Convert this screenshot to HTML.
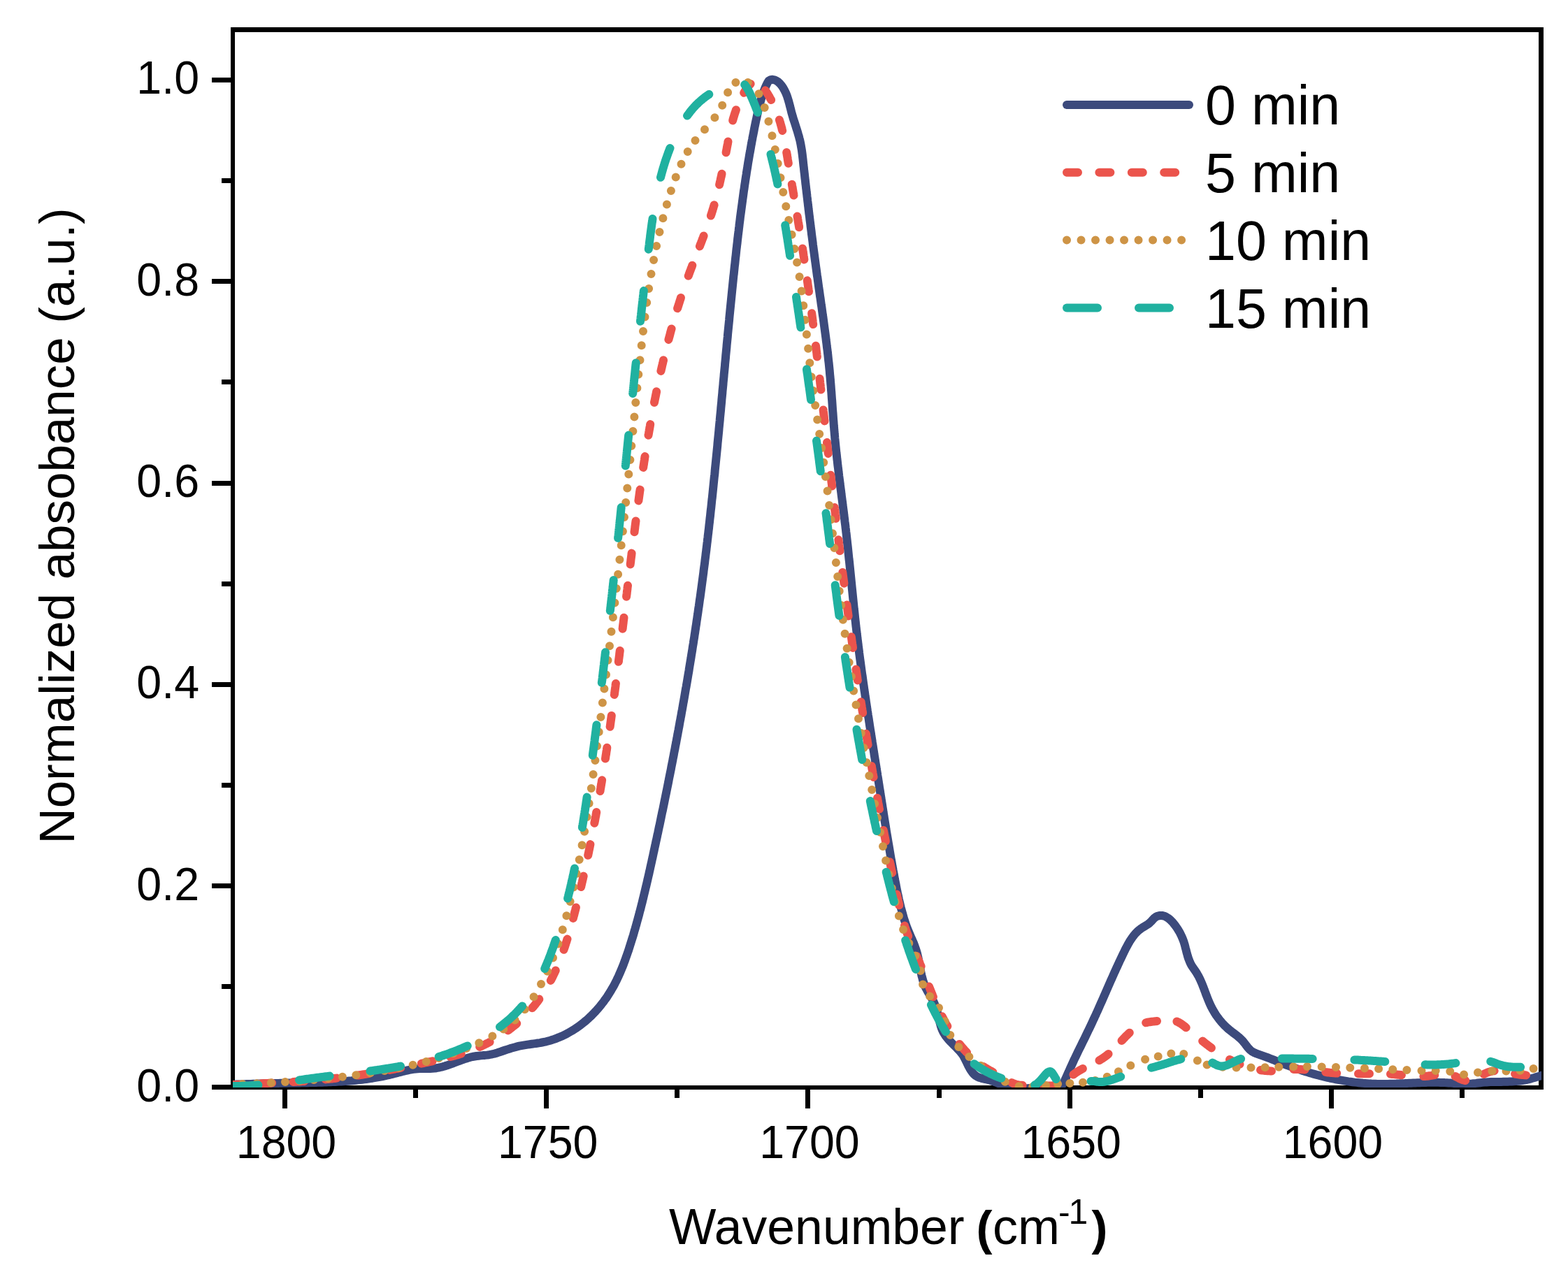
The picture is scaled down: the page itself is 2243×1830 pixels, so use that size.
<!DOCTYPE html>
<html><head><meta charset="utf-8"><title>Normalized absorbance vs wavenumber</title>
<style>
html,body{margin:0;padding:0;background:#fff;}
svg{display:block;}
text{font-family:"Liberation Sans", Arial, Helvetica, sans-serif;fill:#000;}
</style></head><body>
<svg width="2243" height="1830" viewBox="0 0 2243 1830">
<rect x="0" y="0" width="2243" height="1830" fill="#fff"/>
<defs><clipPath id="plotclip"><rect x="333" y="42" width="1872" height="1514"/></clipPath></defs>

<g fill="#000">
<rect x="330" y="39" width="1878" height="7"/>
<rect x="330" y="1553" width="1878" height="6"/>
<rect x="330" y="39" width="6" height="1520"/>
<rect x="2201" y="39" width="7" height="1520"/>
<rect x="303" y="1552" width="27" height="7"/>
<rect x="317" y="1408" width="13" height="7"/>
<rect x="303" y="1264" width="27" height="7"/>
<rect x="317" y="1120" width="13" height="7"/>
<rect x="303" y="976" width="27" height="7"/>
<rect x="317" y="832" width="13" height="7"/>
<rect x="303" y="688" width="27" height="7"/>
<rect x="317" y="543" width="13" height="7"/>
<rect x="303" y="399" width="27" height="7"/>
<rect x="317" y="255" width="13" height="7"/>
<rect x="303" y="111" width="27" height="7"/>
<rect x="404" y="1559" width="7" height="27"/>
<rect x="591" y="1559" width="7" height="12"/>
<rect x="778" y="1559" width="7" height="27"/>
<rect x="965" y="1559" width="7" height="12"/>
<rect x="1152" y="1559" width="7" height="27"/>
<rect x="1340" y="1559" width="7" height="12"/>
<rect x="1527" y="1559" width="7" height="27"/>
<rect x="1714" y="1559" width="7" height="12"/>
<rect x="1901" y="1559" width="7" height="27"/>
<rect x="2088" y="1559" width="7" height="12"/>
</g>
<g font-size="64.5" text-anchor="end">
<text transform="translate(285,1575.8) scale(1,1.04)">0.0</text>
<text transform="translate(285,1287.5) scale(1,1.04)">0.2</text>
<text transform="translate(285,999.2) scale(1,1.04)">0.4</text>
<text transform="translate(285,710.9) scale(1,1.04)">0.6</text>
<text transform="translate(285,422.6) scale(1,1.04)">0.8</text>
<text transform="translate(285,134.3) scale(1,1.04)">1.0</text>
</g>
<g font-size="64.5" text-anchor="middle">
<text transform="translate(409.5,1657) scale(1,1.04)">1800</text>
<text transform="translate(783.7,1657) scale(1,1.04)">1750</text>
<text transform="translate(1157.9,1657) scale(1,1.04)">1700</text>
<text transform="translate(1532.2,1657) scale(1,1.04)">1650</text>
<text transform="translate(1906.4,1657) scale(1,1.04)">1600</text>
</g>
<text x="957" y="1780" font-size="71.5">Wavenumber</text>
<text x="1396.5" y="1780.5" font-size="69" font-weight="bold">(</text>
<text x="1420" y="1780" font-size="72">cm</text>
<text x="1514" y="1750.5" font-size="50">-</text>
<text x="1528.5" y="1750.5" font-size="50">1</text>
<text x="1561.5" y="1780.5" font-size="69" font-weight="bold">)</text>
<text transform="translate(106,1207.5) rotate(-90)" font-size="70.9">Normalized absobance (a.u.)</text>
<g clip-path="url(#plotclip)" fill="none" stroke-width="12" stroke-linecap="round" stroke-linejoin="round">
<polyline stroke="#3C4A7C" points="305.0,1553.4 308.0,1553.2 311.0,1553.0 314.0,1552.8 317.0,1552.7 320.0,1552.5 323.0,1552.3 326.0,1552.2 329.0,1552.0 332.0,1551.9 335.0,1551.8 338.0,1551.6 341.0,1551.5 344.0,1551.4 347.0,1551.3 350.0,1551.2 353.0,1551.0 356.0,1550.9 359.0,1550.9 362.0,1550.8 365.0,1550.7 368.0,1550.6 371.0,1550.5 374.0,1550.4 377.0,1550.3 380.0,1550.3 383.0,1550.2 386.0,1550.1 389.0,1550.1 392.0,1550.0 395.0,1550.0 398.0,1549.9 401.0,1549.8 404.0,1549.8 407.0,1549.7 410.0,1549.7 413.0,1549.6 416.0,1549.6 419.0,1549.5 422.0,1549.5 425.0,1549.4 428.0,1549.4 431.0,1549.3 434.0,1549.3 437.0,1549.2 440.0,1549.2 443.0,1549.1 446.0,1549.1 449.0,1549.0 452.0,1548.9 455.0,1548.8 458.0,1548.7 461.0,1548.7 464.0,1548.6 467.0,1548.4 470.0,1548.3 473.0,1548.2 476.0,1548.1 479.0,1547.9 482.0,1547.7 485.0,1547.6 488.0,1547.4 491.0,1547.2 494.0,1547.0 497.0,1546.8 500.0,1546.5 503.0,1546.3 506.0,1546.0 509.0,1545.7 511.9,1545.4 514.9,1545.1 517.9,1544.7 520.9,1544.3 523.9,1544.0 526.8,1543.6 529.8,1543.1 532.8,1542.7 535.7,1542.2 538.7,1541.7 541.7,1541.2 544.6,1540.6 547.5,1540.0 550.5,1539.4 553.4,1538.7 556.3,1538.1 559.2,1537.3 562.2,1536.6 565.1,1535.8 568.0,1535.1 570.9,1534.3 573.8,1533.6 576.7,1532.8 579.6,1532.1 582.5,1531.5 585.5,1530.9 588.4,1530.4 591.4,1529.9 594.4,1529.5 597.4,1529.2 600.4,1529.0 603.4,1528.9 606.4,1528.9 609.4,1528.9 612.4,1528.9 615.4,1528.9 618.4,1528.8 621.4,1528.6 624.3,1528.2 627.3,1527.7 630.2,1527.0 633.1,1526.3 636.0,1525.5 638.9,1524.6 641.7,1523.6 644.6,1522.6 647.4,1521.6 650.2,1520.5 653.0,1519.4 655.8,1518.4 658.6,1517.3 661.4,1516.3 664.2,1515.3 667.1,1514.4 670.0,1513.5 672.9,1512.7 675.8,1512.0 678.7,1511.5 681.7,1511.0 684.7,1510.7 687.7,1510.4 690.7,1510.1 693.7,1509.9 696.6,1509.6 699.6,1509.2 702.6,1508.7 705.5,1508.0 708.4,1507.3 711.3,1506.4 714.1,1505.4 717.0,1504.5 719.8,1503.5 722.7,1502.5 725.5,1501.6 728.4,1500.7 731.2,1499.8 734.1,1499.0 737.0,1498.2 739.9,1497.4 742.8,1496.7 745.8,1496.1 748.7,1495.6 751.7,1495.1 754.7,1494.6 757.6,1494.2 760.6,1493.8 763.6,1493.4 766.5,1493.0 769.5,1492.5 772.5,1492.1 775.4,1491.5 778.4,1490.9 781.3,1490.3 784.2,1489.5 787.1,1488.7 790.0,1487.8 792.8,1486.9 795.6,1485.8 798.4,1484.7 801.2,1483.6 803.9,1482.4 806.7,1481.1 809.3,1479.8 812.0,1478.4 814.6,1476.9 817.2,1475.4 819.8,1473.8 822.3,1472.2 824.8,1470.6 827.3,1468.8 829.7,1467.1 832.1,1465.3 834.5,1463.4 836.8,1461.5 839.1,1459.6 841.3,1457.6 843.5,1455.5 845.7,1453.5 847.8,1451.3 849.9,1449.2 852.0,1447.0 854.0,1444.8 856.0,1442.5 857.9,1440.2 859.8,1437.9 861.6,1435.5 863.5,1433.2 865.2,1430.7 867.0,1428.3 868.7,1425.8 870.3,1423.3 871.9,1420.8 873.5,1418.2 875.0,1415.6 876.5,1413.0 878.0,1410.4 879.4,1407.7 880.7,1405.1 882.1,1402.4 883.4,1399.7 884.7,1397.0 885.9,1394.2 887.1,1391.5 888.3,1388.7 889.4,1386.0 890.6,1383.2 891.7,1380.4 892.7,1377.6 893.8,1374.8 894.8,1371.9 895.8,1369.1 896.8,1366.3 897.8,1363.4 898.8,1360.6 899.7,1357.7 900.6,1354.9 901.5,1352.0 902.4,1349.2 903.3,1346.3 904.2,1343.4 905.1,1340.6 906.0,1337.7 906.8,1334.8 907.6,1331.9 908.5,1329.0 909.3,1326.2 910.1,1323.3 910.9,1320.4 911.7,1317.5 912.5,1314.6 913.3,1311.7 914.1,1308.8 914.8,1305.9 915.6,1303.0 916.4,1300.1 917.1,1297.2 917.8,1294.3 918.6,1291.4 919.3,1288.4 920.0,1285.5 920.7,1282.6 921.4,1279.7 922.1,1276.8 922.8,1273.9 923.5,1270.9 924.2,1268.0 924.9,1265.1 925.6,1262.2 926.3,1259.2 926.9,1256.3 927.6,1253.4 928.3,1250.5 928.9,1247.5 929.6,1244.6 930.2,1241.7 930.9,1238.7 931.5,1235.8 932.2,1232.9 932.8,1229.9 933.5,1227.0 934.1,1224.1 934.7,1221.2 935.4,1218.2 936.0,1215.3 936.6,1212.4 937.3,1209.4 937.9,1206.5 938.5,1203.5 939.2,1200.6 939.8,1197.7 940.4,1194.7 941.1,1191.8 941.7,1188.9 942.3,1185.9 942.9,1183.0 943.6,1180.1 944.2,1177.1 944.8,1174.2 945.4,1171.2 946.0,1168.3 946.6,1165.4 947.2,1162.4 947.9,1159.5 948.5,1156.6 949.1,1153.6 949.7,1150.7 950.3,1147.7 950.9,1144.8 951.5,1141.9 952.1,1138.9 952.7,1136.0 953.3,1133.0 953.9,1130.1 954.5,1127.1 955.1,1124.2 955.7,1121.3 956.3,1118.3 956.8,1115.4 957.4,1112.4 958.0,1109.5 958.6,1106.5 959.2,1103.6 959.8,1100.7 960.3,1097.7 960.9,1094.8 961.5,1091.8 962.1,1088.9 962.6,1085.9 963.2,1083.0 963.8,1080.0 964.3,1077.1 964.9,1074.1 965.5,1071.2 966.0,1068.2 966.6,1065.3 967.2,1062.3 967.7,1059.4 968.3,1056.4 968.8,1053.5 969.4,1050.5 969.9,1047.6 970.5,1044.6 971.0,1041.7 971.6,1038.7 972.1,1035.8 972.6,1032.8 973.2,1029.9 973.7,1026.9 974.3,1024.0 974.8,1021.0 975.3,1018.1 975.9,1015.1 976.4,1012.2 976.9,1009.2 977.4,1006.2 978.0,1003.3 978.5,1000.3 979.0,997.4 979.5,994.4 980.0,991.5 980.5,988.5 981.0,985.5 981.6,982.6 982.1,979.6 982.6,976.7 983.1,973.7 983.6,970.7 984.1,967.8 984.6,964.8 985.1,961.9 985.6,958.9 986.0,955.9 986.5,953.0 987.0,950.0 987.5,947.1 988.0,944.1 988.5,941.1 988.9,938.2 989.4,935.2 989.9,932.2 990.4,929.3 990.8,926.3 991.3,923.3 991.8,920.4 992.2,917.4 992.7,914.5 993.2,911.5 993.6,908.5 994.1,905.6 994.5,902.6 995.0,899.6 995.4,896.6 995.9,893.7 996.3,890.7 996.7,887.7 997.2,884.8 997.6,881.8 998.1,878.8 998.5,875.9 998.9,872.9 999.3,869.9 999.8,866.9 1000.2,864.0 1000.6,861.0 1001.0,858.0 1001.5,855.1 1001.9,852.1 1002.3,849.1 1002.7,846.1 1003.1,843.2 1003.5,840.2 1003.9,837.2 1004.3,834.2 1004.7,831.3 1005.1,828.3 1005.5,825.3 1005.9,822.3 1006.3,819.4 1006.6,816.4 1007.0,813.4 1007.4,810.4 1007.8,807.5 1008.2,804.5 1008.5,801.5 1008.9,798.5 1009.3,795.5 1009.6,792.6 1010.0,789.6 1010.4,786.6 1010.7,783.6 1011.1,780.6 1011.4,777.7 1011.8,774.7 1012.1,771.7 1012.5,768.7 1012.8,765.7 1013.2,762.8 1013.5,759.8 1013.9,756.8 1014.2,753.8 1014.5,750.8 1014.9,747.8 1015.2,744.9 1015.5,741.9 1015.9,738.9 1016.2,735.9 1016.5,732.9 1016.8,729.9 1017.2,727.0 1017.5,724.0 1017.8,721.0 1018.1,718.0 1018.4,715.0 1018.8,712.0 1019.1,709.0 1019.4,706.1 1019.7,703.1 1020.0,700.1 1020.3,697.1 1020.6,694.1 1020.9,691.1 1021.2,688.1 1021.5,685.2 1021.8,682.2 1022.2,679.2 1022.5,676.2 1022.7,673.2 1023.0,670.2 1023.3,667.2 1023.6,664.3 1023.9,661.3 1024.2,658.3 1024.5,655.3 1024.8,652.3 1025.1,649.3 1025.4,646.3 1025.7,643.3 1026.0,640.4 1026.3,637.4 1026.5,634.4 1026.8,631.4 1027.1,628.4 1027.4,625.4 1027.7,622.4 1028.0,619.4 1028.3,616.4 1028.5,613.5 1028.8,610.5 1029.1,607.5 1029.4,604.5 1029.7,601.5 1029.9,598.5 1030.2,595.5 1030.5,592.5 1030.8,589.5 1031.1,586.6 1031.3,583.6 1031.6,580.6 1031.9,577.6 1032.2,574.6 1032.4,571.6 1032.7,568.6 1033.0,565.6 1033.3,562.6 1033.5,559.7 1033.8,556.7 1034.1,553.7 1034.4,550.7 1034.6,547.7 1034.9,544.7 1035.2,541.7 1035.5,538.7 1035.7,535.7 1036.0,532.8 1036.3,529.8 1036.6,526.8 1036.9,523.8 1037.1,520.8 1037.4,517.8 1037.7,514.8 1038.0,511.8 1038.2,508.8 1038.5,505.9 1038.8,502.9 1039.1,499.9 1039.4,496.9 1039.6,493.9 1039.9,490.9 1040.2,487.9 1040.5,484.9 1040.8,482.0 1041.0,479.0 1041.3,476.0 1041.6,473.0 1041.9,470.0 1042.2,467.0 1042.5,464.0 1042.8,461.0 1043.1,458.0 1043.3,455.1 1043.6,452.1 1043.9,449.1 1044.2,446.1 1044.5,443.1 1044.8,440.1 1045.1,437.1 1045.4,434.1 1045.7,431.2 1046.0,428.2 1046.3,425.2 1046.6,422.2 1046.9,419.2 1047.2,416.2 1047.5,413.2 1047.8,410.3 1048.1,407.3 1048.4,404.3 1048.7,401.3 1049.0,398.3 1049.3,395.3 1049.7,392.3 1050.0,389.4 1050.3,386.4 1050.6,383.4 1050.9,380.4 1051.3,377.4 1051.6,374.4 1051.9,371.4 1052.2,368.5 1052.6,365.5 1052.9,362.5 1053.2,359.5 1053.5,356.5 1053.9,353.5 1054.2,350.6 1054.6,347.6 1054.9,344.6 1055.2,341.6 1055.6,338.6 1055.9,335.7 1056.3,332.7 1056.7,329.7 1057.0,326.7 1057.4,323.7 1057.7,320.8 1058.1,317.8 1058.5,314.8 1058.8,311.8 1059.2,308.8 1059.6,305.9 1060.0,302.9 1060.4,299.9 1060.8,296.9 1061.2,294.0 1061.6,291.0 1062.0,288.0 1062.4,285.0 1062.8,282.1 1063.2,279.1 1063.6,276.1 1064.0,273.1 1064.5,270.2 1064.9,267.2 1065.3,264.2 1065.8,261.3 1066.2,258.3 1066.7,255.3 1067.1,252.4 1067.6,249.4 1068.0,246.4 1068.5,243.5 1069.0,240.5 1069.5,237.5 1069.9,234.6 1070.4,231.6 1070.9,228.7 1071.4,225.7 1071.9,222.7 1072.4,219.8 1073.0,216.8 1073.5,213.9 1074.0,210.9 1074.5,208.0 1075.1,205.0 1075.6,202.0 1076.2,199.1 1076.7,196.1 1077.3,193.2 1077.9,190.3 1078.5,187.3 1079.0,184.4 1079.6,181.4 1080.2,178.5 1080.8,175.5 1081.4,172.6 1082.1,169.7 1082.7,166.7 1083.3,163.8 1084.0,160.9 1084.6,157.9 1085.3,155.0 1086.1,152.1 1086.8,149.2 1087.6,146.3 1088.4,143.4 1089.2,140.5 1090.1,137.7 1091.1,134.8 1092.1,132.0 1093.1,129.2 1094.2,126.4 1095.4,123.6 1096.6,120.9 1098.0,118.2 1099.6,115.7 1102.2,114.2 1105.2,113.8 1108.1,114.3 1110.8,115.6 1113.3,117.3 1115.5,119.4 1117.4,121.6 1119.2,124.1 1120.8,126.6 1122.2,129.2 1123.6,131.9 1124.8,134.7 1125.9,137.5 1126.8,140.3 1127.7,143.2 1128.5,146.1 1129.3,149.0 1130.0,151.9 1130.8,154.8 1131.5,157.7 1132.2,160.6 1133.0,163.5 1133.9,166.4 1134.7,169.3 1135.6,172.1 1136.6,175.0 1137.5,177.8 1138.4,180.7 1139.3,183.6 1140.2,186.4 1141.1,189.3 1141.9,192.2 1142.8,195.1 1143.5,198.0 1144.3,200.9 1144.9,203.8 1145.5,206.7 1146.0,209.7 1146.5,212.6 1147.0,215.6 1147.4,218.6 1147.8,221.6 1148.1,224.5 1148.5,227.5 1148.8,230.5 1149.1,233.5 1149.4,236.5 1149.8,239.5 1150.1,242.5 1150.4,245.4 1150.8,248.4 1151.1,251.4 1151.4,254.4 1151.8,257.4 1152.1,260.3 1152.4,263.3 1152.8,266.3 1153.1,269.3 1153.5,272.3 1153.8,275.3 1154.2,278.2 1154.5,281.2 1154.9,284.2 1155.2,287.2 1155.6,290.2 1155.9,293.1 1156.3,296.1 1156.6,299.1 1157.0,302.1 1157.3,305.1 1157.7,308.0 1158.1,311.0 1158.4,314.0 1158.8,317.0 1159.2,320.0 1159.5,322.9 1159.9,325.9 1160.3,328.9 1160.7,331.9 1161.0,334.9 1161.4,337.8 1161.8,340.8 1162.2,343.8 1162.6,346.8 1162.9,349.7 1163.3,352.7 1163.7,355.7 1164.1,358.7 1164.5,361.6 1164.9,364.6 1165.3,367.6 1165.7,370.6 1166.1,373.6 1166.5,376.5 1166.9,379.5 1167.3,382.5 1167.7,385.4 1168.1,388.4 1168.5,391.4 1168.9,394.4 1169.4,397.3 1169.8,400.3 1170.2,403.3 1170.6,406.3 1171.0,409.2 1171.4,412.2 1171.9,415.2 1172.3,418.1 1172.7,421.1 1173.1,424.1 1173.6,427.1 1174.0,430.0 1174.4,433.0 1174.8,436.0 1175.3,438.9 1175.7,441.9 1176.1,444.9 1176.5,447.9 1176.9,450.8 1177.4,453.8 1177.8,456.8 1178.2,459.8 1178.6,462.7 1179.0,465.7 1179.4,468.7 1179.8,471.7 1180.2,474.6 1180.6,477.6 1181.0,480.6 1181.4,483.6 1181.7,486.5 1182.1,489.5 1182.5,492.5 1182.8,495.5 1183.2,498.5 1183.6,501.4 1183.9,504.4 1184.3,507.4 1184.6,510.4 1184.9,513.4 1185.2,516.3 1185.6,519.3 1185.9,522.3 1186.2,525.3 1186.5,528.3 1186.8,531.3 1187.0,534.3 1187.3,537.3 1187.6,540.2 1187.8,543.2 1188.1,546.2 1188.3,549.2 1188.6,552.2 1188.8,555.2 1189.0,558.2 1189.3,561.2 1189.5,564.2 1189.7,567.2 1189.9,570.2 1190.2,573.2 1190.4,576.2 1190.6,579.2 1190.8,582.1 1191.0,585.1 1191.2,588.1 1191.5,591.1 1191.7,594.1 1191.9,597.1 1192.1,600.1 1192.4,603.1 1192.6,606.1 1192.8,609.1 1193.1,612.1 1193.3,615.1 1193.6,618.1 1193.8,621.1 1194.1,624.0 1194.3,627.0 1194.6,630.0 1194.9,633.0 1195.2,636.0 1195.5,639.0 1195.8,642.0 1196.1,645.0 1196.4,647.9 1196.8,650.9 1197.1,653.9 1197.4,656.9 1197.8,659.9 1198.1,662.9 1198.4,665.8 1198.8,668.8 1199.2,671.8 1199.5,674.8 1199.9,677.8 1200.2,680.7 1200.6,683.7 1201.0,686.7 1201.4,689.7 1201.7,692.6 1202.1,695.6 1202.5,698.6 1202.9,701.6 1203.3,704.6 1203.6,707.5 1204.0,710.5 1204.4,713.5 1204.8,716.5 1205.2,719.4 1205.5,722.4 1205.9,725.4 1206.3,728.4 1206.7,731.4 1207.1,734.3 1207.4,737.3 1207.8,740.3 1208.2,743.3 1208.5,746.2 1208.9,749.2 1209.3,752.2 1209.6,755.2 1210.0,758.2 1210.3,761.2 1210.7,764.1 1211.0,767.1 1211.3,770.1 1211.7,773.1 1212.0,776.1 1212.3,779.0 1212.7,782.0 1213.0,785.0 1213.3,788.0 1213.6,791.0 1213.9,794.0 1214.2,797.0 1214.5,799.9 1214.9,802.9 1215.2,805.9 1215.5,808.9 1215.8,811.9 1216.1,814.9 1216.4,817.9 1216.7,820.8 1217.0,823.8 1217.3,826.8 1217.6,829.8 1217.9,832.8 1218.2,835.8 1218.5,838.8 1218.8,841.8 1219.1,844.7 1219.4,847.7 1219.7,850.7 1220.0,853.7 1220.3,856.7 1220.6,859.7 1220.9,862.7 1221.2,865.6 1221.5,868.6 1221.8,871.6 1222.2,874.6 1222.5,877.6 1222.8,880.6 1223.1,883.6 1223.4,886.5 1223.8,889.5 1224.1,892.5 1224.4,895.5 1224.8,898.5 1225.1,901.5 1225.5,904.4 1225.8,907.4 1226.2,910.4 1226.5,913.4 1226.9,916.4 1227.3,919.3 1227.6,922.3 1228.0,925.3 1228.4,928.3 1228.8,931.2 1229.1,934.2 1229.5,937.2 1229.9,940.2 1230.3,943.2 1230.7,946.1 1231.1,949.1 1231.5,952.1 1231.9,955.1 1232.3,958.0 1232.7,961.0 1233.1,964.0 1233.6,966.9 1234.0,969.9 1234.4,972.9 1234.8,975.9 1235.2,978.8 1235.7,981.8 1236.1,984.8 1236.5,987.7 1237.0,990.7 1237.4,993.7 1237.8,996.7 1238.3,999.6 1238.7,1002.6 1239.1,1005.6 1239.6,1008.5 1240.0,1011.5 1240.5,1014.5 1240.9,1017.4 1241.4,1020.4 1241.8,1023.4 1242.3,1026.3 1242.8,1029.3 1243.2,1032.3 1243.7,1035.2 1244.1,1038.2 1244.6,1041.2 1245.0,1044.1 1245.5,1047.1 1246.0,1050.1 1246.4,1053.0 1246.9,1056.0 1247.4,1059.0 1247.8,1061.9 1248.3,1064.9 1248.8,1067.9 1249.2,1070.8 1249.7,1073.8 1250.2,1076.8 1250.6,1079.7 1251.1,1082.7 1251.6,1085.7 1252.0,1088.6 1252.5,1091.6 1253.0,1094.5 1253.5,1097.5 1253.9,1100.5 1254.4,1103.4 1254.9,1106.4 1255.3,1109.4 1255.8,1112.3 1256.3,1115.3 1256.7,1118.3 1257.2,1121.2 1257.7,1124.2 1258.1,1127.2 1258.6,1130.1 1259.1,1133.1 1259.5,1136.1 1260.0,1139.0 1260.5,1142.0 1260.9,1145.0 1261.4,1147.9 1261.9,1150.9 1262.3,1153.8 1262.8,1156.8 1263.3,1159.8 1263.7,1162.7 1264.2,1165.7 1264.7,1168.7 1265.1,1171.6 1265.6,1174.6 1266.1,1177.6 1266.6,1180.5 1267.1,1183.5 1267.5,1186.5 1268.0,1189.4 1268.5,1192.4 1269.0,1195.3 1269.5,1198.3 1270.0,1201.3 1270.5,1204.2 1271.0,1207.2 1271.5,1210.1 1272.0,1213.1 1272.5,1216.1 1273.0,1219.0 1273.5,1222.0 1274.0,1224.9 1274.5,1227.9 1275.0,1230.8 1275.6,1233.8 1276.1,1236.8 1276.6,1239.7 1277.2,1242.7 1277.7,1245.6 1278.3,1248.6 1278.8,1251.5 1279.4,1254.5 1279.9,1257.4 1280.5,1260.4 1281.1,1263.3 1281.7,1266.3 1282.2,1269.2 1282.8,1272.1 1283.4,1275.1 1284.0,1278.0 1284.7,1281.0 1285.3,1283.9 1285.9,1286.8 1286.6,1289.8 1287.3,1292.7 1288.0,1295.6 1288.7,1298.5 1289.5,1301.4 1290.3,1304.3 1291.1,1307.2 1291.9,1310.1 1292.7,1313.0 1293.6,1315.8 1294.6,1318.7 1295.5,1321.5 1296.5,1324.4 1297.5,1327.2 1298.6,1330.0 1299.7,1332.8 1300.9,1335.5 1302.1,1338.3 1303.3,1341.1 1304.5,1343.8 1305.7,1346.6 1306.9,1349.3 1308.0,1352.1 1309.0,1354.9 1310.0,1357.7 1310.9,1360.6 1311.8,1363.5 1312.5,1366.4 1313.2,1369.3 1313.8,1372.3 1314.4,1375.2 1314.9,1378.1 1315.5,1381.1 1316.0,1384.0 1316.6,1387.0 1317.2,1389.9 1317.8,1392.9 1318.4,1395.8 1319.2,1398.7 1319.9,1401.6 1320.8,1404.5 1321.8,1407.3 1322.8,1410.1 1324.0,1412.9 1325.4,1415.6 1326.8,1418.2 1328.3,1420.8 1329.8,1423.4 1331.4,1426.0 1332.9,1428.6 1334.4,1431.2 1335.8,1433.8 1337.0,1436.6 1338.1,1439.4 1339.1,1442.2 1340.0,1445.1 1340.8,1448.0 1341.5,1450.9 1342.2,1453.8 1342.9,1456.7 1343.6,1459.6 1344.3,1462.6 1345.1,1465.5 1345.9,1468.3 1346.9,1471.2 1348.0,1473.9 1349.3,1476.7 1350.8,1479.3 1352.4,1481.8 1354.2,1484.2 1356.1,1486.5 1358.1,1488.8 1360.2,1490.9 1362.3,1493.1 1364.4,1495.2 1366.6,1497.3 1368.7,1499.4 1370.7,1501.6 1372.8,1503.8 1374.7,1506.1 1376.5,1508.5 1378.2,1511.0 1379.6,1513.6 1381.0,1516.3 1382.3,1519.0 1383.6,1521.7 1384.9,1524.4 1386.3,1527.1 1387.8,1529.7 1389.4,1532.2 1391.1,1534.7 1393.1,1536.9 1395.4,1538.9 1397.9,1540.5 1400.6,1541.7 1403.5,1542.6 1406.4,1543.4 1409.3,1544.0 1412.3,1544.7 1415.2,1545.4 1418.0,1546.3 1420.9,1547.2 1423.7,1548.3 1426.5,1549.3 1429.3,1550.4 1432.1,1551.5 1434.9,1552.6 1437.7,1553.7 1440.6,1554.6 1443.4,1555.5 1446.3,1556.2 1449.3,1556.8 1452.3,1557.2 1455.2,1557.5 1458.2,1557.6 1461.2,1557.6 1464.2,1557.5 1467.2,1557.4 1470.2,1557.2 1473.2,1557.0 1476.2,1556.9 1479.2,1556.8 1482.2,1556.7 1485.2,1556.7 1488.2,1556.8 1491.2,1557.0 1494.2,1557.3 1497.2,1557.6 1500.2,1557.9 1503.2,1558.2 1506.2,1558.2 1509.2,1558.0 1512.1,1557.4 1514.9,1556.3 1517.4,1554.6 1519.4,1552.4 1521.1,1549.9 1522.5,1547.3 1523.7,1544.5 1525.0,1541.8 1526.2,1539.1 1527.4,1536.3 1528.7,1533.6 1529.9,1530.9 1531.1,1528.1 1532.4,1525.4 1533.6,1522.7 1534.9,1519.9 1536.1,1517.2 1537.4,1514.5 1538.7,1511.8 1540.0,1509.1 1541.3,1506.4 1542.6,1503.7 1543.9,1501.0 1545.3,1498.3 1546.6,1495.6 1547.9,1492.9 1549.2,1490.2 1550.6,1487.5 1551.9,1484.8 1553.2,1482.1 1554.5,1479.4 1555.8,1476.7 1557.1,1474.0 1558.4,1471.3 1559.7,1468.6 1561.0,1465.9 1562.3,1463.2 1563.5,1460.4 1564.8,1457.7 1566.0,1455.0 1567.3,1452.3 1568.5,1449.5 1569.8,1446.8 1571.0,1444.1 1572.2,1441.3 1573.4,1438.6 1574.6,1435.8 1575.9,1433.1 1577.1,1430.3 1578.3,1427.6 1579.5,1424.8 1580.7,1422.1 1581.9,1419.3 1583.1,1416.6 1584.3,1413.8 1585.5,1411.1 1586.7,1408.3 1587.9,1405.6 1589.1,1402.8 1590.4,1400.1 1591.6,1397.4 1592.8,1394.6 1594.0,1391.9 1595.3,1389.1 1596.5,1386.4 1597.8,1383.7 1599.0,1381.0 1600.3,1378.2 1601.5,1375.5 1602.8,1372.8 1604.1,1370.1 1605.4,1367.4 1606.7,1364.7 1608.0,1362.0 1609.3,1359.3 1610.7,1356.6 1612.1,1353.9 1613.5,1351.3 1615.0,1348.7 1616.5,1346.1 1618.2,1343.6 1619.9,1341.1 1621.7,1338.8 1623.6,1336.4 1625.7,1334.2 1627.8,1332.1 1630.1,1330.2 1632.5,1328.4 1635.0,1326.7 1637.6,1325.2 1640.1,1323.7 1642.7,1322.0 1645.0,1320.1 1647.1,1318.0 1649.1,1315.7 1651.2,1313.6 1653.6,1311.8 1656.3,1310.6 1659.3,1310.0 1662.3,1310.0 1665.2,1310.6 1668.0,1311.8 1670.5,1313.3 1672.9,1315.1 1675.1,1317.2 1677.2,1319.3 1679.1,1321.6 1681.0,1324.0 1682.7,1326.4 1684.4,1328.9 1686.0,1331.5 1687.5,1334.1 1688.9,1336.8 1690.2,1339.5 1691.4,1342.2 1692.5,1345.0 1693.5,1347.8 1694.4,1350.7 1695.2,1353.6 1695.9,1356.5 1696.7,1359.4 1697.4,1362.3 1698.2,1365.2 1699.0,1368.1 1699.9,1371.0 1701.0,1373.8 1702.1,1376.6 1703.4,1379.3 1704.8,1381.9 1706.5,1384.4 1708.2,1386.9 1709.9,1389.3 1711.6,1391.8 1713.1,1394.4 1714.6,1397.0 1715.9,1399.7 1717.2,1402.4 1718.4,1405.2 1719.6,1407.9 1720.7,1410.7 1721.8,1413.5 1722.8,1416.3 1723.9,1419.1 1724.9,1422.0 1726.0,1424.8 1727.1,1427.6 1728.2,1430.4 1729.3,1433.1 1730.5,1435.9 1731.8,1438.6 1733.1,1441.3 1734.5,1444.0 1736.0,1446.6 1737.5,1449.1 1739.1,1451.7 1740.8,1454.1 1742.6,1456.6 1744.4,1459.0 1746.3,1461.3 1748.3,1463.6 1750.3,1465.8 1752.4,1467.9 1754.6,1470.0 1756.8,1472.0 1759.1,1473.9 1761.5,1475.8 1763.9,1477.6 1766.3,1479.4 1768.7,1481.2 1771.0,1483.1 1773.3,1485.0 1775.5,1487.1 1777.5,1489.2 1779.5,1491.6 1781.3,1493.9 1783.1,1496.3 1785.0,1498.7 1787.0,1500.9 1789.1,1503.0 1791.6,1504.8 1794.2,1506.2 1797.0,1507.3 1799.8,1508.3 1802.6,1509.3 1805.5,1510.3 1808.3,1511.3 1811.1,1512.3 1813.9,1513.4 1816.7,1514.5 1819.5,1515.6 1822.3,1516.7 1825.1,1517.8 1827.9,1518.9 1830.7,1520.1 1833.5,1521.2 1836.3,1522.3 1839.1,1523.3 1841.9,1524.4 1844.7,1525.4 1847.5,1526.5 1850.3,1527.5 1853.2,1528.5 1856.0,1529.5 1858.8,1530.4 1861.7,1531.3 1864.5,1532.3 1867.4,1533.2 1870.3,1534.1 1873.1,1534.9 1876.0,1535.8 1878.9,1536.6 1881.8,1537.4 1884.7,1538.2 1887.6,1538.9 1890.5,1539.7 1893.4,1540.4 1896.3,1541.1 1899.3,1541.8 1902.2,1542.5 1905.1,1543.1 1908.1,1543.7 1911.0,1544.3 1914.0,1544.9 1916.9,1545.4 1919.9,1545.9 1922.8,1546.4 1925.8,1546.9 1928.8,1547.4 1931.7,1547.8 1934.7,1548.2 1937.7,1548.6 1940.7,1548.9 1943.6,1549.2 1946.6,1549.5 1949.6,1549.8 1952.6,1550.0 1955.6,1550.2 1958.6,1550.4 1961.6,1550.6 1964.6,1550.7 1967.6,1550.8 1970.6,1550.9 1973.6,1550.9 1976.6,1551.0 1979.6,1551.0 1982.6,1550.9 1985.6,1550.9 1988.6,1550.8 1991.6,1550.7 1994.6,1550.7 1997.6,1550.6 2000.6,1550.4 2003.6,1550.3 2006.6,1550.2 2009.6,1550.1 2012.6,1549.9 2015.6,1549.8 2018.6,1549.7 2021.6,1549.5 2024.6,1549.4 2027.6,1549.3 2030.6,1549.2 2033.6,1549.1 2036.6,1549.0 2039.6,1548.9 2042.6,1548.8 2045.6,1548.8 2048.6,1548.7 2051.6,1548.7 2054.6,1548.7 2057.6,1548.8 2060.6,1548.9 2063.6,1548.9 2066.6,1549.1 2069.6,1549.2 2072.6,1549.4 2075.6,1549.6 2078.6,1549.9 2081.6,1550.2 2084.6,1550.4 2087.6,1550.7 2090.6,1550.9 2093.6,1551.0 2096.6,1551.0 2099.6,1550.9 2102.6,1550.7 2105.5,1550.5 2108.5,1550.2 2111.5,1549.9 2114.5,1549.5 2117.5,1549.2 2120.5,1548.9 2123.5,1548.6 2126.4,1548.4 2129.4,1548.2 2132.4,1548.1 2135.4,1548.0 2138.4,1548.0 2141.4,1547.9 2144.4,1547.9 2147.4,1547.9 2150.5,1547.8 2153.5,1547.8 2156.5,1547.7 2159.5,1547.6 2162.5,1547.5 2165.4,1547.3 2168.4,1547.1 2171.4,1546.8 2174.4,1546.5 2177.4,1546.1 2180.4,1545.6 2183.3,1545.0 2186.2,1544.4 2189.1,1543.6 2192.0,1542.8 2194.9,1542.0 2197.8,1541.1 2200.6,1540.2 2203.5,1539.4 2206.4,1538.6 2209.3,1537.9 2212.3,1537.3 2215.2,1536.8 2218.2,1536.5 2221.2,1536.5 2224.2,1536.6 2227.2,1537.0 2230.1,1537.7 2233.0,1538.5"/>
<path stroke="#EB544C" d="M326.7,1552.4 L327.6,1552.3 L329.0,1552.3 L330.5,1552.2 L332.0,1552.1 L333.5,1552.1 L335.0,1552.0 L336.5,1551.9 L338.0,1551.9 L339.5,1551.8 L341.0,1551.7 L342.5,1551.7 L342.7,1551.7 M373.1,1550.4 L374.0,1550.3 L375.5,1550.3 L377.0,1550.2 L378.5,1550.1 L380.0,1550.1 L381.5,1550.0 L383.0,1549.9 L384.5,1549.8 L386.0,1549.8 L387.5,1549.7 L389.0,1549.6 L389.1,1549.6 M419.4,1548.0 L420.5,1547.9 L422.0,1547.8 L423.4,1547.7 L424.9,1547.6 L426.4,1547.5 L427.9,1547.4 L429.4,1547.3 L430.9,1547.2 L432.4,1547.1 L433.9,1547.0 L435.4,1546.9 M465.7,1544.4 L466.8,1544.2 L468.3,1544.1 L469.8,1543.9 L471.3,1543.8 L472.8,1543.6 L474.3,1543.5 L475.8,1543.3 L477.3,1543.1 L478.7,1543.0 L480.2,1542.8 L481.6,1542.6 M511.7,1538.6 L512.9,1538.5 L514.4,1538.2 L515.9,1538.0 L517.4,1537.8 L518.9,1537.5 L520.4,1537.3 L521.8,1537.1 L523.3,1536.8 L524.8,1536.6 L526.3,1536.4 L527.5,1536.2 M557.5,1530.9 L558.8,1530.6 L560.3,1530.4 L561.7,1530.1 L563.2,1529.8 L564.7,1529.5 L566.2,1529.2 L567.6,1528.9 L569.1,1528.7 L570.6,1528.4 L572.0,1528.1 L573.2,1527.9 M602.9,1521.7 L604.4,1521.4 L605.8,1521.1 L607.3,1520.7 L608.8,1520.4 L610.2,1520.1 L611.7,1519.8 L613.2,1519.5 L614.6,1519.1 L616.1,1518.8 L617.5,1518.5 L618.6,1518.3 M644.3,1512.1 L645.3,1511.8 L646.7,1511.4 L648.1,1511.0 L649.6,1510.6 L651.0,1510.2 L652.5,1509.8 L653.9,1509.4 L655.4,1509.0 L656.8,1508.5 L658.2,1508.1 L659.7,1507.7 L659.7,1507.7 M686.2,1497.9 L686.4,1497.8 L687.8,1497.2 L689.1,1496.6 L690.5,1495.9 L691.8,1495.3 L693.2,1494.7 L694.6,1494.0 L695.9,1493.3 L697.2,1492.7 L698.6,1492.0 L699.9,1491.3 L700.6,1490.9 M726.7,1474.4 L727.8,1473.6 L729.0,1472.7 L730.1,1471.8 L731.3,1470.9 L732.5,1470.0 L733.7,1469.0 L734.8,1468.1 L736.0,1467.1 L737.2,1466.2 L738.3,1465.2 L739.2,1464.4 M761.4,1442.2 L761.6,1441.9 L762.6,1440.8 L763.6,1439.6 L764.5,1438.5 L765.5,1437.3 L766.4,1436.1 L767.3,1435.0 L768.2,1433.8 L769.2,1432.6 L770.1,1431.4 L770.9,1430.2 L771.3,1429.6 M787.8,1402.9 L788.2,1402.1 L788.9,1400.8 L789.6,1399.4 L790.3,1398.1 L790.9,1396.7 L791.6,1395.4 L792.2,1394.0 L792.9,1392.7 L793.5,1391.3 L794.1,1390.0 L794.8,1388.6 L794.8,1388.5 M806.5,1358.8 L806.8,1357.9 L807.3,1356.5 L807.8,1355.0 L808.3,1353.6 L808.7,1352.2 L809.2,1350.8 L809.6,1349.3 L810.1,1347.9 L810.6,1346.5 L811.0,1345.0 L811.5,1343.6 L811.5,1343.6 M819.9,1313.9 L820.0,1313.3 L820.4,1311.9 L820.8,1310.4 L821.2,1309.0 L821.6,1307.5 L821.9,1306.1 L822.3,1304.6 L822.7,1303.2 L823.1,1301.7 L823.4,1300.2 L823.8,1298.8 L823.9,1298.4 M831.1,1269.0 L831.3,1268.2 L831.6,1266.7 L832.0,1265.3 L832.3,1263.8 L832.7,1262.3 L833.0,1260.9 L833.3,1259.4 L833.7,1258.0 L834.0,1256.5 L834.3,1255.0 L834.7,1253.6 L834.7,1253.4 M841.2,1223.8 L841.4,1222.8 L841.7,1221.3 L842.0,1219.9 L842.3,1218.4 L842.6,1216.9 L842.9,1215.5 L843.2,1214.0 L843.5,1212.5 L843.8,1211.0 L844.1,1209.6 L844.4,1208.1 L844.4,1208.1 M850.3,1177.8 L850.4,1177.2 L850.7,1175.7 L851.0,1174.2 L851.3,1172.8 L851.5,1171.3 L851.8,1169.8 L852.1,1168.3 L852.4,1166.9 L852.6,1165.4 L852.9,1163.9 L853.2,1162.4 L853.2,1162.0 M858.5,1132.0 L858.6,1131.4 L858.8,1129.9 L859.1,1128.4 L859.3,1127.0 L859.6,1125.5 L859.8,1124.0 L860.1,1122.5 L860.3,1121.0 L860.6,1119.6 L860.8,1118.1 L861.0,1116.6 L861.1,1116.3 M865.9,1085.6 L866.0,1085.5 L866.2,1084.0 L866.4,1082.5 L866.6,1081.0 L866.9,1079.6 L867.1,1078.1 L867.3,1076.6 L867.5,1075.1 L867.8,1073.6 L868.0,1072.1 L868.2,1070.6 L868.3,1069.8 M872.6,1039.8 L872.7,1039.5 L872.9,1038.0 L873.1,1036.5 L873.3,1035.0 L873.5,1033.5 L873.7,1032.0 L873.9,1030.6 L874.1,1029.1 L874.3,1027.6 L874.5,1026.1 L874.7,1024.6 L874.8,1023.9 M878.8,993.9 L878.9,993.4 L879.1,991.9 L879.3,990.4 L879.5,988.9 L879.7,987.4 L879.9,985.9 L880.1,984.5 L880.3,983.0 L880.5,981.5 L880.6,980.0 L880.8,978.5 L880.9,978.0 M884.8,946.8 L885.0,945.8 L885.1,944.3 L885.3,942.8 L885.5,941.3 L885.7,939.8 L885.9,938.3 L886.1,936.8 L886.2,935.3 L886.4,933.9 L886.6,932.4 L886.8,930.9 M890.6,899.7 L890.6,899.6 L890.8,898.1 L890.9,896.6 L891.1,895.1 L891.3,893.6 L891.5,892.2 L891.7,890.7 L891.8,889.2 L892.0,887.7 L892.2,886.2 L892.4,884.7 L892.5,883.8 M896.1,853.7 L896.1,853.4 L896.3,851.9 L896.5,850.4 L896.7,849.0 L896.8,847.5 L897.0,846.0 L897.2,844.5 L897.4,843.0 L897.5,841.5 L897.7,840.0 L897.9,838.5 L898.0,837.8 M901.7,807.5 L901.7,807.3 L901.9,805.8 L902.1,804.3 L902.3,802.8 L902.4,801.3 L902.6,799.8 L902.8,798.3 L903.0,796.8 L903.2,795.3 L903.4,793.9 L903.5,792.4 L903.6,791.6 M907.5,761.3 L907.5,761.1 L907.7,759.6 L907.9,758.1 L908.1,756.7 L908.3,755.2 L908.4,753.7 L908.6,752.2 L908.8,750.7 L909.0,749.2 L909.2,747.7 L909.4,746.2 L909.5,745.4 M913.4,716.4 L913.6,715.0 L913.8,713.5 L914.0,712.0 L914.2,710.6 L914.4,709.1 L914.6,707.6 L914.8,706.1 L915.0,704.6 L915.2,703.1 L915.5,701.6 L915.6,700.6 M920.2,668.9 L920.4,667.5 L920.6,666.0 L920.9,664.5 L921.1,663.0 L921.3,661.6 L921.5,660.1 L921.8,658.6 L922.0,657.1 L922.2,655.6 L922.4,654.2 L922.6,653.1 M927.5,622.8 L927.7,621.6 L928.0,620.1 L928.2,618.6 L928.5,617.1 L928.7,615.7 L929.0,614.2 L929.3,612.7 L929.5,611.2 L929.8,609.7 L930.0,608.3 L930.2,607.1 M936.0,575.9 L936.0,575.8 L936.3,574.3 L936.6,572.9 L936.9,571.4 L937.2,569.9 L937.5,568.5 L937.8,567.0 L938.1,565.5 L938.4,564.0 L938.7,562.6 L939.0,561.1 L939.1,560.2 M945.4,530.9 L945.6,530.3 L945.9,528.8 L946.2,527.4 L946.6,525.9 L946.9,524.5 L947.2,523.0 L947.6,521.5 L947.9,520.1 L948.3,518.6 L948.6,517.2 L949.0,515.7 L949.0,515.3 M956.4,485.9 L956.6,485.1 L957.0,483.7 L957.4,482.2 L957.8,480.8 L958.2,479.3 L958.6,477.9 L958.9,476.4 L959.3,475.0 L959.7,473.5 L960.1,472.1 L960.5,470.7 L960.6,470.4 M969.1,441.2 L969.4,440.4 L969.8,439.0 L970.3,437.6 L970.7,436.1 L971.2,434.7 L971.6,433.3 L972.1,431.8 L972.5,430.4 L973.0,429.0 L973.5,427.6 L973.9,426.1 L974.0,426.0 M984.7,394.7 L985.2,393.5 L985.7,392.1 L986.2,390.7 L986.7,389.3 L987.2,387.9 L987.8,386.5 L988.3,385.1 L988.8,383.7 L989.4,382.3 L989.9,380.9 L990.3,379.7 M1000.9,352.4 L1001.3,351.5 L1001.8,350.1 L1002.3,348.7 L1002.9,347.3 L1003.4,345.9 L1004.0,344.5 L1004.5,343.1 L1005.0,341.7 L1005.6,340.3 L1006.1,338.9 L1006.6,337.5 L1006.6,337.5 M1016.9,308.6 L1017.1,307.8 L1017.6,306.4 L1018.1,304.9 L1018.5,303.5 L1019.0,302.1 L1019.4,300.6 L1019.8,299.2 L1020.3,297.8 L1020.7,296.3 L1021.1,294.9 L1021.6,293.4 L1021.6,293.3 M1029.1,264.3 L1029.4,262.9 L1029.7,261.5 L1030.0,260.0 L1030.4,258.5 L1030.7,257.1 L1031.0,255.6 L1031.3,254.1 L1031.7,252.7 L1032.0,251.2 L1032.3,249.7 L1032.5,248.7 M1038.6,218.2 L1038.7,217.4 L1039.0,215.9 L1039.3,214.4 L1039.6,213.0 L1039.8,211.5 L1040.1,210.0 L1040.4,208.5 L1040.7,207.1 L1041.0,205.6 L1041.2,204.1 L1041.5,202.6 L1041.5,202.5 M1048.2,172.4 L1048.3,171.9 L1048.7,170.4 L1049.1,169.0 L1049.5,167.6 L1050.0,166.1 L1050.4,164.7 L1050.9,163.2 L1051.3,161.8 L1051.8,160.4 L1052.3,159.0 L1052.7,157.6 L1052.9,157.2 M1064.2,132.8 L1064.8,131.8 L1065.6,130.5 L1066.4,129.3 L1067.2,128.0 L1068.1,126.8 L1069.0,125.6 L1069.9,124.4 L1070.8,123.2 L1071.8,122.0 L1072.8,120.9 L1073.7,120.0 M1094.8,129.3 L1095.0,129.6 L1095.8,130.8 L1096.6,132.1 L1097.5,133.3 L1098.3,134.6 L1099.0,135.9 L1099.8,137.2 L1100.6,138.5 L1101.3,139.8 L1102.0,141.1 L1102.8,142.4 L1103.1,143.0 M1114.9,171.5 L1115.3,172.8 L1115.8,174.3 L1116.2,175.7 L1116.6,177.2 L1117.0,178.6 L1117.4,180.0 L1117.8,181.5 L1118.2,182.9 L1118.5,184.4 L1118.9,185.9 L1119.2,186.9 M1125.2,218.0 L1125.2,218.2 L1125.5,219.7 L1125.7,221.2 L1126.0,222.7 L1126.2,224.2 L1126.5,225.6 L1126.7,227.1 L1126.9,228.6 L1127.2,230.1 L1127.4,231.6 L1127.7,233.0 L1127.8,233.8 M1132.8,263.7 L1132.9,264.1 L1133.1,265.6 L1133.4,267.1 L1133.6,268.5 L1133.9,270.0 L1134.1,271.5 L1134.4,273.0 L1134.6,274.5 L1134.9,275.9 L1135.2,277.4 L1135.4,278.9 L1135.5,279.5 M1140.5,309.5 L1140.6,310.0 L1140.9,311.4 L1141.1,312.9 L1141.4,314.4 L1141.6,315.9 L1141.8,317.4 L1142.1,318.8 L1142.3,320.3 L1142.6,321.8 L1142.8,323.3 L1143.1,324.8 L1143.1,325.3 M1148.0,355.6 L1148.0,355.9 L1148.3,357.4 L1148.5,358.8 L1148.7,360.3 L1149.0,361.8 L1149.2,363.3 L1149.4,364.8 L1149.6,366.2 L1149.9,367.7 L1150.1,369.2 L1150.3,370.7 L1150.4,371.4 M1154.8,401.3 L1154.9,401.9 L1155.1,403.4 L1155.3,404.8 L1155.5,406.3 L1155.7,407.8 L1155.9,409.3 L1156.1,410.8 L1156.3,412.3 L1156.5,413.8 L1156.7,415.2 L1157.0,416.7 L1157.0,417.2 M1161.2,448.2 L1161.3,449.4 L1161.5,450.9 L1161.7,452.4 L1161.9,453.9 L1162.1,455.4 L1162.3,456.9 L1162.5,458.4 L1162.7,459.9 L1162.8,461.3 L1163.0,462.8 L1163.2,464.1 M1167.0,494.8 L1167.1,495.6 L1167.3,497.1 L1167.5,498.6 L1167.6,500.1 L1167.8,501.5 L1168.0,503.0 L1168.2,504.5 L1168.4,506.0 L1168.5,507.5 L1168.7,509.0 L1168.9,510.5 L1168.9,510.6 M1172.6,541.7 L1172.6,541.8 L1172.7,543.3 L1172.9,544.7 L1173.1,546.2 L1173.2,547.7 L1173.4,549.2 L1173.6,550.7 L1173.8,552.2 L1173.9,553.7 L1174.1,555.2 L1174.3,556.7 L1174.4,557.6 M1177.7,586.5 L1177.8,588.0 L1178.0,589.5 L1178.2,590.9 L1178.3,592.4 L1178.5,593.9 L1178.7,595.4 L1178.9,596.9 L1179.0,598.4 L1179.2,599.9 L1179.4,601.4 L1179.5,602.4 M1183.0,633.1 L1183.1,634.2 L1183.3,635.7 L1183.4,637.2 L1183.6,638.6 L1183.8,640.1 L1183.9,641.6 L1184.1,643.1 L1184.3,644.6 L1184.4,646.1 L1184.6,647.6 L1184.8,649.0 M1188.3,679.7 L1188.4,680.4 L1188.6,681.9 L1188.7,683.4 L1188.9,684.8 L1189.1,686.3 L1189.3,687.8 L1189.4,689.3 L1189.6,690.8 L1189.8,692.3 L1190.0,693.8 L1190.1,695.3 L1190.2,695.6 M1193.8,726.1 L1193.9,726.6 L1194.0,728.0 L1194.2,729.5 L1194.4,731.0 L1194.6,732.5 L1194.8,734.0 L1194.9,735.5 L1195.1,737.0 L1195.3,738.5 L1195.5,740.0 L1195.7,741.5 L1195.7,742.0 M1199.4,772.3 L1199.5,772.7 L1199.7,774.2 L1199.9,775.7 L1200.1,777.2 L1200.2,778.7 L1200.4,780.2 L1200.6,781.6 L1200.8,783.1 L1201.0,784.6 L1201.2,786.1 L1201.4,787.6 L1201.4,788.2 M1205.3,818.9 L1205.5,820.3 L1205.7,821.8 L1205.9,823.3 L1206.1,824.8 L1206.3,826.3 L1206.5,827.8 L1206.7,829.3 L1206.9,830.8 L1207.1,832.2 L1207.3,833.7 L1207.4,834.7 M1211.5,865.5 L1211.6,866.4 L1211.8,867.9 L1212.0,869.4 L1212.2,870.9 L1212.4,872.4 L1212.6,873.9 L1212.8,875.4 L1213.0,876.9 L1213.2,878.3 L1213.4,879.8 L1213.6,881.3 L1213.6,881.4 M1217.8,911.2 L1218.0,912.5 L1218.2,914.0 L1218.4,915.5 L1218.6,917.0 L1218.8,918.5 L1219.0,919.9 L1219.2,921.4 L1219.5,922.9 L1219.7,924.4 L1219.9,925.9 L1220.0,927.0 M1224.5,957.8 L1224.6,958.5 L1224.9,960.0 L1225.1,961.5 L1225.3,963.0 L1225.5,964.5 L1225.8,966.0 L1226.0,967.4 L1226.2,968.9 L1226.4,970.4 L1226.6,971.9 L1226.9,973.4 L1226.9,973.6 M1231.6,1004.3 L1231.7,1004.5 L1231.9,1006.0 L1232.1,1007.5 L1232.4,1009.0 L1232.6,1010.4 L1232.8,1011.9 L1233.1,1013.4 L1233.3,1014.9 L1233.5,1016.4 L1233.8,1017.8 L1234.0,1019.3 L1234.1,1020.1 M1238.9,1049.8 L1239.0,1050.4 L1239.3,1051.9 L1239.5,1053.4 L1239.8,1054.9 L1240.0,1056.3 L1240.3,1057.8 L1240.5,1059.3 L1240.8,1060.8 L1241.0,1062.3 L1241.3,1063.7 L1241.5,1065.2 L1241.6,1065.6 M1246.8,1096.1 L1246.8,1096.3 L1247.1,1097.7 L1247.3,1099.2 L1247.6,1100.7 L1247.9,1102.2 L1248.1,1103.7 L1248.4,1105.1 L1248.6,1106.6 L1248.9,1108.1 L1249.2,1109.6 L1249.4,1111.0 L1249.6,1111.9 M1255.0,1141.8 L1255.0,1142.0 L1255.3,1143.5 L1255.6,1145.0 L1255.9,1146.5 L1256.1,1147.9 L1256.4,1149.4 L1256.7,1150.9 L1257.0,1152.4 L1257.2,1153.8 L1257.5,1155.3 L1257.8,1156.8 L1258.0,1157.6 M1263.8,1188.0 L1264.0,1189.2 L1264.3,1190.7 L1264.6,1192.1 L1264.9,1193.6 L1265.2,1195.1 L1265.5,1196.6 L1265.8,1198.0 L1266.1,1199.5 L1266.4,1201.0 L1266.7,1202.4 L1266.9,1203.7 M1272.9,1233.3 L1272.9,1233.3 L1273.2,1234.8 L1273.6,1236.2 L1273.9,1237.7 L1274.2,1239.2 L1274.5,1240.7 L1274.8,1242.1 L1275.1,1243.6 L1275.4,1245.1 L1275.7,1246.5 L1276.0,1248.0 L1276.2,1248.9 M1282.8,1279.6 L1283.0,1280.2 L1283.3,1281.7 L1283.6,1283.2 L1284.0,1284.6 L1284.3,1286.1 L1284.6,1287.6 L1284.9,1289.0 L1285.3,1290.5 L1285.6,1292.0 L1285.9,1293.4 L1286.3,1294.9 L1286.3,1295.2 M1294.0,1324.5 L1294.2,1325.4 L1294.7,1326.8 L1295.2,1328.2 L1295.6,1329.6 L1296.1,1331.1 L1296.6,1332.5 L1297.1,1333.9 L1297.6,1335.3 L1298.1,1336.7 L1298.7,1338.1 L1299.2,1339.5 L1299.2,1339.6 M1311.3,1368.0 L1311.5,1368.5 L1312.1,1369.9 L1312.7,1371.3 L1313.3,1372.6 L1313.9,1374.0 L1314.5,1375.4 L1315.1,1376.8 L1315.7,1378.1 L1316.2,1379.5 L1316.8,1380.9 L1317.4,1382.3 L1317.6,1382.7 M1328.9,1411.4 L1329.0,1411.6 L1329.6,1413.0 L1330.1,1414.4 L1330.7,1415.8 L1331.2,1417.2 L1331.8,1418.6 L1332.3,1419.9 L1332.9,1421.3 L1333.5,1422.7 L1334.0,1424.1 L1334.6,1425.5 L1334.9,1426.3 M1347.7,1454.3 L1348.3,1455.5 L1349.0,1456.9 L1349.7,1458.2 L1350.4,1459.5 L1351.1,1460.8 L1351.8,1462.2 L1352.5,1463.5 L1353.2,1464.8 L1354.0,1466.1 L1354.7,1467.4 L1355.3,1468.4 M1372.6,1493.9 L1373.2,1494.7 L1374.2,1495.8 L1375.1,1497.0 L1376.1,1498.2 L1377.1,1499.3 L1378.0,1500.4 L1379.0,1501.6 L1380.0,1502.7 L1381.0,1503.8 L1382.1,1504.9 L1383.1,1506.0 M1406.5,1525.9 L1407.1,1526.3 L1408.3,1527.1 L1409.6,1527.9 L1410.9,1528.7 L1412.2,1529.5 L1413.5,1530.2 L1414.8,1531.0 L1416.1,1531.7 L1417.4,1532.4 L1418.7,1533.1 L1420.0,1533.9 L1420.3,1534.0 M1447.2,1549.1 L1447.5,1549.2 L1448.9,1549.9 L1450.2,1550.5 L1451.6,1551.0 L1453.0,1551.5 L1454.5,1551.9 L1456.0,1552.3 L1457.4,1552.5 L1458.9,1552.7 L1460.4,1552.8 L1461.9,1552.8 L1462.6,1552.8 M1493.3,1553.2 L1494.8,1553.3 L1496.3,1553.4 L1497.8,1553.5 L1499.3,1553.5 L1500.8,1553.6 L1502.3,1553.6 L1503.8,1553.5 L1505.3,1553.5 L1506.8,1553.3 L1508.3,1553.2 L1509.3,1553.0 M1535.4,1537.5 L1536.4,1536.8 L1537.6,1535.9 L1538.8,1535.0 L1540.0,1534.2 L1541.3,1533.4 L1542.5,1532.6 L1543.8,1531.8 L1545.1,1531.1 L1546.4,1530.3 L1547.8,1529.6 L1548.9,1529.0 M1572.5,1517.2 L1573.2,1516.8 L1574.5,1516.0 L1575.8,1515.2 L1577.0,1514.4 L1578.3,1513.6 L1579.5,1512.8 L1580.7,1511.9 L1581.9,1511.0 L1583.1,1510.1 L1584.3,1509.1 L1585.4,1508.2 L1585.6,1508.0 M1604.5,1489.1 L1605.6,1488.0 L1606.6,1486.9 L1607.6,1485.8 L1608.7,1484.7 L1609.7,1483.6 L1610.7,1482.6 L1611.8,1481.5 L1612.9,1480.4 L1613.9,1479.4 L1615.0,1478.4 L1615.8,1477.7 M1639.2,1463.3 L1640.4,1463.0 L1641.9,1462.7 L1643.3,1462.4 L1644.8,1462.2 L1646.3,1462.0 L1647.8,1461.8 L1649.3,1461.6 L1650.8,1461.4 L1652.3,1461.3 L1653.8,1461.2 L1655.0,1461.0 M1683.4,1461.6 L1683.5,1461.7 L1684.9,1462.2 L1686.2,1462.9 L1687.5,1463.6 L1688.8,1464.4 L1690.1,1465.2 L1691.3,1466.1 L1692.5,1467.0 L1693.7,1467.9 L1694.9,1468.8 L1696.0,1469.8 L1696.7,1470.3 M1720.2,1489.6 L1720.4,1489.7 L1721.6,1490.7 L1722.7,1491.6 L1723.9,1492.5 L1725.1,1493.5 L1726.3,1494.4 L1727.5,1495.3 L1728.7,1496.2 L1729.9,1497.1 L1731.1,1498.0 L1732.3,1498.9 L1732.9,1499.4 M1759.0,1516.0 L1760.1,1516.6 L1761.4,1517.3 L1762.8,1518.0 L1764.1,1518.6 L1765.5,1519.3 L1766.8,1519.9 L1768.2,1520.5 L1769.6,1521.2 L1770.9,1521.8 L1772.3,1522.3 L1773.5,1522.8 M1803.1,1531.1 L1804.0,1531.3 L1805.5,1531.5 L1807.0,1531.6 L1808.5,1531.8 L1810.0,1532.0 L1811.4,1532.1 L1812.9,1532.2 L1814.4,1532.3 L1815.9,1532.3 L1817.4,1532.4 L1818.9,1532.4 L1819.0,1532.4 M1850.5,1530.1 L1851.8,1530.1 L1853.3,1530.0 L1854.8,1530.0 L1856.3,1530.0 L1857.8,1530.0 L1859.3,1530.1 L1860.8,1530.1 L1862.3,1530.2 L1863.8,1530.3 L1865.3,1530.4 L1866.5,1530.4 M1896.3,1534.1 L1896.6,1534.1 L1898.1,1534.3 L1899.6,1534.5 L1901.1,1534.6 L1902.6,1534.8 L1904.1,1534.9 L1905.6,1535.1 L1907.1,1535.2 L1908.6,1535.3 L1910.0,1535.4 L1911.5,1535.5 L1912.2,1535.6 M1943.0,1536.3 L1943.0,1536.3 L1944.5,1536.3 L1946.0,1536.3 L1947.5,1536.3 L1949.0,1536.3 L1950.5,1536.3 L1952.0,1536.2 L1953.5,1536.2 L1955.0,1536.2 L1956.5,1536.2 L1958.0,1536.2 L1959.0,1536.2 M1989.0,1536.8 L1989.5,1536.8 L1991.0,1536.9 L1992.5,1537.0 L1994.0,1537.1 L1995.5,1537.3 L1997.0,1537.4 L1998.5,1537.5 L2000.0,1537.7 L2001.5,1537.8 L2003.0,1538.0 L2004.5,1538.1 L2004.9,1538.2 M2036.4,1540.1 L2037.4,1540.0 L2038.9,1539.9 L2040.4,1539.8 L2041.9,1539.7 L2043.4,1539.5 L2044.8,1539.3 L2046.3,1539.1 L2047.8,1538.9 L2049.3,1538.6 L2050.8,1538.4 L2052.3,1538.1 L2052.3,1538.1 M2081.5,1539.9 L2081.6,1539.9 L2082.9,1540.6 L2084.2,1541.3 L2085.5,1542.0 L2086.9,1542.7 L2088.2,1543.4 L2089.6,1544.0 L2090.9,1544.6 L2092.3,1545.1 L2093.8,1545.5 L2095.2,1545.8 L2096.2,1546.0 M2122.4,1536.9 L2123.3,1536.5 L2124.6,1535.9 L2126.0,1535.3 L2127.4,1534.7 L2128.8,1534.2 L2130.3,1533.7 L2131.7,1533.3 L2133.1,1532.9 L2134.6,1532.6 L2136.1,1532.4 L2137.6,1532.2 L2137.6,1532.2 M2167.1,1536.5 L2167.1,1536.5 L2168.6,1536.8 L2170.1,1537.0 L2171.6,1537.2 L2173.1,1537.5 L2174.6,1537.7 L2176.0,1537.8 L2177.5,1538.0 L2179.0,1538.1 L2180.5,1538.2 L2182.0,1538.3 L2183.0,1538.4 M2213.4,1538.2 L2213.5,1538.2 L2215.0,1538.1 L2216.5,1538.1 L2218.0,1538.0 L2219.5,1538.0 L2221.0,1537.9 L2222.5,1537.9 L2224.0,1537.9 L2225.5,1537.9 L2227.0,1537.9 L2228.5,1537.9 L2229.4,1537.9"/>
<path fill="#CE9446" stroke="none" d="M320.4,1551.7a6,6 0 1,0 12,0a6,6 0 1,0 -12,0zM340.9,1551.0a6,6 0 1,0 12,0a6,6 0 1,0 -12,0zM361.3,1550.2a6,6 0 1,0 12,0a6,6 0 1,0 -12,0zM381.8,1549.2a6,6 0 1,0 12,0a6,6 0 1,0 -12,0zM402.0,1548.0a6,6 0 1,0 12,0a6,6 0 1,0 -12,0zM422.5,1546.6a6,6 0 1,0 12,0a6,6 0 1,0 -12,0zM443.0,1545.0a6,6 0 1,0 12,0a6,6 0 1,0 -12,0zM463.5,1543.0a6,6 0 1,0 12,0a6,6 0 1,0 -12,0zM483.9,1540.7a6,6 0 1,0 12,0a6,6 0 1,0 -12,0zM503.3,1538.3a6,6 0 1,0 12,0a6,6 0 1,0 -12,0zM523.7,1535.3a6,6 0 1,0 12,0a6,6 0 1,0 -12,0zM544.1,1531.9a6,6 0 1,0 12,0a6,6 0 1,0 -12,0zM564.4,1528.1a6,6 0 1,0 12,0a6,6 0 1,0 -12,0zM584.6,1523.8a6,6 0 1,0 12,0a6,6 0 1,0 -12,0zM603.7,1519.1a6,6 0 1,0 12,0a6,6 0 1,0 -12,0zM621.8,1514.0a6,6 0 1,0 12,0a6,6 0 1,0 -12,0zM642.3,1507.3a6,6 0 1,0 12,0a6,6 0 1,0 -12,0zM661.2,1500.1a6,6 0 1,0 12,0a6,6 0 1,0 -12,0zM679.3,1492.2a6,6 0 1,0 12,0a6,6 0 1,0 -12,0zM698.4,1482.4a6,6 0 1,0 12,0a6,6 0 1,0 -12,0zM714.3,1472.4a6,6 0 1,0 12,0a6,6 0 1,0 -12,0zM730.6,1459.4a6,6 0 1,0 12,0a6,6 0 1,0 -12,0zM744.7,1444.2a6,6 0 1,0 12,0a6,6 0 1,0 -12,0zM757.5,1426.3a6,6 0 1,0 12,0a6,6 0 1,0 -12,0zM768.0,1408.0a6,6 0 1,0 12,0a6,6 0 1,0 -12,0zM777.0,1389.7a6,6 0 1,0 12,0a6,6 0 1,0 -12,0zM785.0,1370.6a6,6 0 1,0 12,0a6,6 0 1,0 -12,0zM792.4,1350.5a6,6 0 1,0 12,0a6,6 0 1,0 -12,0zM798.8,1330.2a6,6 0 1,0 12,0a6,6 0 1,0 -12,0zM804.4,1310.2a6,6 0 1,0 12,0a6,6 0 1,0 -12,0zM809.6,1289.9a6,6 0 1,0 12,0a6,6 0 1,0 -12,0zM814.4,1269.4a6,6 0 1,0 12,0a6,6 0 1,0 -12,0zM818.7,1249.9a6,6 0 1,0 12,0a6,6 0 1,0 -12,0zM822.7,1230.1a6,6 0 1,0 12,0a6,6 0 1,0 -12,0zM826.6,1209.3a6,6 0 1,0 12,0a6,6 0 1,0 -12,0zM830.1,1189.8a6,6 0 1,0 12,0a6,6 0 1,0 -12,0zM833.5,1169.1a6,6 0 1,0 12,0a6,6 0 1,0 -12,0zM836.6,1149.4a6,6 0 1,0 12,0a6,6 0 1,0 -12,0zM839.8,1128.0a6,6 0 1,0 12,0a6,6 0 1,0 -12,0zM842.6,1108.0a6,6 0 1,0 12,0a6,6 0 1,0 -12,0zM845.4,1087.9a6,6 0 1,0 12,0a6,6 0 1,0 -12,0zM848.0,1067.6a6,6 0 1,0 12,0a6,6 0 1,0 -12,0zM850.7,1047.3a6,6 0 1,0 12,0a6,6 0 1,0 -12,0zM853.4,1026.0a6,6 0 1,0 12,0a6,6 0 1,0 -12,0zM855.9,1005.5a6,6 0 1,0 12,0a6,6 0 1,0 -12,0zM858.4,985.6a6,6 0 1,0 12,0a6,6 0 1,0 -12,0zM861.0,965.2a6,6 0 1,0 12,0a6,6 0 1,0 -12,0zM863.5,944.7a6,6 0 1,0 12,0a6,6 0 1,0 -12,0zM866.0,924.3a6,6 0 1,0 12,0a6,6 0 1,0 -12,0zM868.5,903.8a6,6 0 1,0 12,0a6,6 0 1,0 -12,0zM870.9,883.2a6,6 0 1,0 12,0a6,6 0 1,0 -12,0zM873.4,862.6a6,6 0 1,0 12,0a6,6 0 1,0 -12,0zM875.8,842.1a6,6 0 1,0 12,0a6,6 0 1,0 -12,0zM878.1,821.8a6,6 0 1,0 12,0a6,6 0 1,0 -12,0zM880.4,800.8a6,6 0 1,0 12,0a6,6 0 1,0 -12,0zM882.7,780.3a6,6 0 1,0 12,0a6,6 0 1,0 -12,0zM884.9,760.2a6,6 0 1,0 12,0a6,6 0 1,0 -12,0zM887.0,739.9a6,6 0 1,0 12,0a6,6 0 1,0 -12,0zM889.2,718.9a6,6 0 1,0 12,0a6,6 0 1,0 -12,0zM891.3,698.6a6,6 0 1,0 12,0a6,6 0 1,0 -12,0zM893.3,678.6a6,6 0 1,0 12,0a6,6 0 1,0 -12,0zM895.4,658.0a6,6 0 1,0 12,0a6,6 0 1,0 -12,0zM897.3,637.9a6,6 0 1,0 12,0a6,6 0 1,0 -12,0zM899.4,616.9a6,6 0 1,0 12,0a6,6 0 1,0 -12,0zM901.4,596.4a6,6 0 1,0 12,0a6,6 0 1,0 -12,0zM903.3,575.9a6,6 0 1,0 12,0a6,6 0 1,0 -12,0zM905.4,555.3a6,6 0 1,0 12,0a6,6 0 1,0 -12,0zM907.3,535.8a6,6 0 1,0 12,0a6,6 0 1,0 -12,0zM909.5,515.2a6,6 0 1,0 12,0a6,6 0 1,0 -12,0zM911.7,494.3a6,6 0 1,0 12,0a6,6 0 1,0 -12,0zM914.0,474.0a6,6 0 1,0 12,0a6,6 0 1,0 -12,0zM916.5,453.6a6,6 0 1,0 12,0a6,6 0 1,0 -12,0zM919.2,433.1a6,6 0 1,0 12,0a6,6 0 1,0 -12,0zM922.1,413.1a6,6 0 1,0 12,0a6,6 0 1,0 -12,0zM925.5,392.1a6,6 0 1,0 12,0a6,6 0 1,0 -12,0zM929.1,372.0a6,6 0 1,0 12,0a6,6 0 1,0 -12,0zM933.1,352.0a6,6 0 1,0 12,0a6,6 0 1,0 -12,0zM937.5,332.1a6,6 0 1,0 12,0a6,6 0 1,0 -12,0zM942.4,312.2a6,6 0 1,0 12,0a6,6 0 1,0 -12,0zM947.9,292.6a6,6 0 1,0 12,0a6,6 0 1,0 -12,0zM953.9,273.0a6,6 0 1,0 12,0a6,6 0 1,0 -12,0zM960.7,253.6a6,6 0 1,0 12,0a6,6 0 1,0 -12,0zM968.5,234.8a6,6 0 1,0 12,0a6,6 0 1,0 -12,0zM977.7,217.0a6,6 0 1,0 12,0a6,6 0 1,0 -12,0zM988.5,201.1a6,6 0 1,0 12,0a6,6 0 1,0 -12,0zM1002.0,185.2a6,6 0 1,0 12,0a6,6 0 1,0 -12,0zM1016.4,168.2a6,6 0 1,0 12,0a6,6 0 1,0 -12,0zM1027.2,150.7a6,6 0 1,0 12,0a6,6 0 1,0 -12,0zM1035.1,132.3a6,6 0 1,0 12,0a6,6 0 1,0 -12,0zM1046.4,117.9a6,6 0 1,0 12,0a6,6 0 1,0 -12,0zM1063.9,118.1a6,6 0 1,0 12,0a6,6 0 1,0 -12,0zM1079.5,134.3a6,6 0 1,0 12,0a6,6 0 1,0 -12,0zM1087.7,154.1a6,6 0 1,0 12,0a6,6 0 1,0 -12,0zM1093.4,173.8a6,6 0 1,0 12,0a6,6 0 1,0 -12,0zM1098.5,194.2a6,6 0 1,0 12,0a6,6 0 1,0 -12,0zM1102.8,214.0a6,6 0 1,0 12,0a6,6 0 1,0 -12,0zM1106.7,233.9a6,6 0 1,0 12,0a6,6 0 1,0 -12,0zM1110.5,254.2a6,6 0 1,0 12,0a6,6 0 1,0 -12,0zM1114.3,274.9a6,6 0 1,0 12,0a6,6 0 1,0 -12,0zM1118.3,295.3a6,6 0 1,0 12,0a6,6 0 1,0 -12,0zM1122.3,314.9a6,6 0 1,0 12,0a6,6 0 1,0 -12,0zM1126.6,335.8a6,6 0 1,0 12,0a6,6 0 1,0 -12,0zM1130.5,356.0a6,6 0 1,0 12,0a6,6 0 1,0 -12,0zM1134.1,375.4a6,6 0 1,0 12,0a6,6 0 1,0 -12,0zM1137.6,395.9a6,6 0 1,0 12,0a6,6 0 1,0 -12,0zM1140.6,416.5a6,6 0 1,0 12,0a6,6 0 1,0 -12,0zM1143.3,437.2a6,6 0 1,0 12,0a6,6 0 1,0 -12,0zM1145.6,457.8a6,6 0 1,0 12,0a6,6 0 1,0 -12,0zM1147.9,478.5a6,6 0 1,0 12,0a6,6 0 1,0 -12,0zM1150.1,498.7a6,6 0 1,0 12,0a6,6 0 1,0 -12,0zM1152.3,519.3a6,6 0 1,0 12,0a6,6 0 1,0 -12,0zM1154.7,539.2a6,6 0 1,0 12,0a6,6 0 1,0 -12,0zM1157.3,559.1a6,6 0 1,0 12,0a6,6 0 1,0 -12,0zM1160.2,579.9a6,6 0 1,0 12,0a6,6 0 1,0 -12,0zM1163.2,600.4a6,6 0 1,0 12,0a6,6 0 1,0 -12,0zM1166.2,620.9a6,6 0 1,0 12,0a6,6 0 1,0 -12,0zM1169.2,641.1a6,6 0 1,0 12,0a6,6 0 1,0 -12,0zM1172.2,661.7a6,6 0 1,0 12,0a6,6 0 1,0 -12,0zM1174.9,681.9a6,6 0 1,0 12,0a6,6 0 1,0 -12,0zM1177.6,702.4a6,6 0 1,0 12,0a6,6 0 1,0 -12,0zM1180.2,722.9a6,6 0 1,0 12,0a6,6 0 1,0 -12,0zM1182.6,743.5a6,6 0 1,0 12,0a6,6 0 1,0 -12,0zM1185.0,763.2a6,6 0 1,0 12,0a6,6 0 1,0 -12,0zM1187.4,784.0a6,6 0 1,0 12,0a6,6 0 1,0 -12,0zM1189.9,805.0a6,6 0 1,0 12,0a6,6 0 1,0 -12,0zM1192.2,824.9a6,6 0 1,0 12,0a6,6 0 1,0 -12,0zM1194.7,845.8a6,6 0 1,0 12,0a6,6 0 1,0 -12,0zM1197.2,866.0a6,6 0 1,0 12,0a6,6 0 1,0 -12,0zM1199.9,886.8a6,6 0 1,0 12,0a6,6 0 1,0 -12,0zM1202.6,906.7a6,6 0 1,0 12,0a6,6 0 1,0 -12,0zM1205.6,927.7a6,6 0 1,0 12,0a6,6 0 1,0 -12,0zM1208.6,947.8a6,6 0 1,0 12,0a6,6 0 1,0 -12,0zM1211.8,967.9a6,6 0 1,0 12,0a6,6 0 1,0 -12,0zM1215.1,988.5a6,6 0 1,0 12,0a6,6 0 1,0 -12,0zM1218.5,1008.4a6,6 0 1,0 12,0a6,6 0 1,0 -12,0zM1222.0,1028.2a6,6 0 1,0 12,0a6,6 0 1,0 -12,0zM1225.8,1049.1a6,6 0 1,0 12,0a6,6 0 1,0 -12,0zM1229.6,1070.0a6,6 0 1,0 12,0a6,6 0 1,0 -12,0zM1233.6,1090.9a6,6 0 1,0 12,0a6,6 0 1,0 -12,0zM1237.3,1109.9a6,6 0 1,0 12,0a6,6 0 1,0 -12,0zM1241.2,1130.0a6,6 0 1,0 12,0a6,6 0 1,0 -12,0zM1245.1,1150.0a6,6 0 1,0 12,0a6,6 0 1,0 -12,0zM1249.0,1169.9a6,6 0 1,0 12,0a6,6 0 1,0 -12,0zM1253.1,1190.7a6,6 0 1,0 12,0a6,6 0 1,0 -12,0zM1257.0,1210.9a6,6 0 1,0 12,0a6,6 0 1,0 -12,0zM1261.1,1231.2a6,6 0 1,0 12,0a6,6 0 1,0 -12,0zM1265.4,1251.0a6,6 0 1,0 12,0a6,6 0 1,0 -12,0zM1269.8,1270.8a6,6 0 1,0 12,0a6,6 0 1,0 -12,0zM1274.6,1290.6a6,6 0 1,0 12,0a6,6 0 1,0 -12,0zM1279.9,1310.6a6,6 0 1,0 12,0a6,6 0 1,0 -12,0zM1286.1,1329.9a6,6 0 1,0 12,0a6,6 0 1,0 -12,0zM1294.3,1349.6a6,6 0 1,0 12,0a6,6 0 1,0 -12,0zM1303.3,1367.5a6,6 0 1,0 12,0a6,6 0 1,0 -12,0zM1310.8,1388.9a6,6 0 1,0 12,0a6,6 0 1,0 -12,0zM1314.1,1408.4a6,6 0 1,0 12,0a6,6 0 1,0 -12,0zM1324.1,1425.6a6,6 0 1,0 12,0a6,6 0 1,0 -12,0zM1337.0,1442.1a6,6 0 1,0 12,0a6,6 0 1,0 -12,0zM1345.6,1461.2a6,6 0 1,0 12,0a6,6 0 1,0 -12,0zM1353.3,1481.0a6,6 0 1,0 12,0a6,6 0 1,0 -12,0zM1365.3,1498.0a6,6 0 1,0 12,0a6,6 0 1,0 -12,0zM1380.4,1512.0a6,6 0 1,0 12,0a6,6 0 1,0 -12,0zM1397.0,1524.7a6,6 0 1,0 12,0a6,6 0 1,0 -12,0zM1413.9,1537.0a6,6 0 1,0 12,0a6,6 0 1,0 -12,0zM1431.8,1547.7a6,6 0 1,0 12,0a6,6 0 1,0 -12,0zM1451.7,1554.3a6,6 0 1,0 12,0a6,6 0 1,0 -12,0zM1471.2,1555.0a6,6 0 1,0 12,0a6,6 0 1,0 -12,0zM1490.0,1553.0a6,6 0 1,0 12,0a6,6 0 1,0 -12,0zM1507.1,1551.0a6,6 0 1,0 12,0a6,6 0 1,0 -12,0zM1524.4,1549.9a6,6 0 1,0 12,0a6,6 0 1,0 -12,0zM1543.0,1548.7a6,6 0 1,0 12,0a6,6 0 1,0 -12,0zM1560.7,1546.1a6,6 0 1,0 12,0a6,6 0 1,0 -12,0zM1577.7,1540.8a6,6 0 1,0 12,0a6,6 0 1,0 -12,0zM1593.9,1533.3a6,6 0 1,0 12,0a6,6 0 1,0 -12,0zM1611.3,1524.4a6,6 0 1,0 12,0a6,6 0 1,0 -12,0zM1632.1,1515.7a6,6 0 1,0 12,0a6,6 0 1,0 -12,0zM1650.7,1511.4a6,6 0 1,0 12,0a6,6 0 1,0 -12,0zM1669.3,1507.5a6,6 0 1,0 12,0a6,6 0 1,0 -12,0zM1687.3,1508.1a6,6 0 1,0 12,0a6,6 0 1,0 -12,0zM1706.9,1517.6a6,6 0 1,0 12,0a6,6 0 1,0 -12,0zM1720.6,1523.5a6,6 0 1,0 12,0a6,6 0 1,0 -12,0zM1743.1,1526.8a6,6 0 1,0 12,0a6,6 0 1,0 -12,0zM1762.6,1527.5a6,6 0 1,0 12,0a6,6 0 1,0 -12,0zM1783.5,1527.6a6,6 0 1,0 12,0a6,6 0 1,0 -12,0zM1803.6,1527.2a6,6 0 1,0 12,0a6,6 0 1,0 -12,0zM1823.3,1526.8a6,6 0 1,0 12,0a6,6 0 1,0 -12,0zM1844.2,1526.3a6,6 0 1,0 12,0a6,6 0 1,0 -12,0zM1863.9,1526.1a6,6 0 1,0 12,0a6,6 0 1,0 -12,0zM1884.7,1526.4a6,6 0 1,0 12,0a6,6 0 1,0 -12,0zM1905.0,1527.0a6,6 0 1,0 12,0a6,6 0 1,0 -12,0zM1925.3,1527.8a6,6 0 1,0 12,0a6,6 0 1,0 -12,0zM1946.0,1528.5a6,6 0 1,0 12,0a6,6 0 1,0 -12,0zM1966.1,1529.3a6,6 0 1,0 12,0a6,6 0 1,0 -12,0zM1986.3,1530.2a6,6 0 1,0 12,0a6,6 0 1,0 -12,0zM2006.4,1531.1a6,6 0 1,0 12,0a6,6 0 1,0 -12,0zM2027.5,1531.9a6,6 0 1,0 12,0a6,6 0 1,0 -12,0zM2047.7,1532.1a6,6 0 1,0 12,0a6,6 0 1,0 -12,0zM2068.3,1533.1a6,6 0 1,0 12,0a6,6 0 1,0 -12,0zM2088.1,1537.5a6,6 0 1,0 12,0a6,6 0 1,0 -12,0zM2108.0,1534.5a6,6 0 1,0 12,0a6,6 0 1,0 -12,0zM2128.4,1532.6a6,6 0 1,0 12,0a6,6 0 1,0 -12,0zM2148.5,1532.5a6,6 0 1,0 12,0a6,6 0 1,0 -12,0zM2168.5,1531.8a6,6 0 1,0 12,0a6,6 0 1,0 -12,0zM2187.6,1528.9a6,6 0 1,0 12,0a6,6 0 1,0 -12,0zM2207.9,1526.2a6,6 0 1,0 12,0a6,6 0 1,0 -12,0z"/>
<path stroke="#20B1A0" d="M325.4,1553.9 L325.9,1553.9 L327.4,1553.9 L328.9,1554.0 L330.4,1554.0 L331.9,1554.0 L333.4,1554.0 L334.9,1554.0 L336.4,1554.0 L337.9,1554.0 L339.4,1554.0 L340.9,1554.0 L342.4,1553.9 L343.9,1553.9 L345.4,1553.9 L346.9,1553.8 L348.4,1553.8 L349.9,1553.7 L351.4,1553.6 L352.9,1553.6 L354.4,1553.5 L355.9,1553.4 L357.4,1553.3 L358.9,1553.2 L360.4,1553.1 L361.9,1553.0 L363.4,1552.9 L364.9,1552.8 L366.4,1552.7 L367.9,1552.6 L369.4,1552.5 L369.4,1552.5 M428.0,1545.4 L428.9,1545.3 L430.4,1545.1 L431.9,1544.9 L433.4,1544.7 L434.9,1544.5 L436.4,1544.2 L437.8,1544.0 L439.3,1543.8 L440.8,1543.6 L442.3,1543.4 L443.8,1543.2 L445.3,1543.0 L446.8,1542.8 L448.2,1542.6 L449.7,1542.4 L451.2,1542.2 L452.7,1542.0 L454.2,1541.8 L455.7,1541.6 L457.2,1541.4 L458.7,1541.2 L460.2,1541.1 L461.6,1540.9 L463.1,1540.7 L464.6,1540.5 L466.1,1540.3 L467.6,1540.1 L469.1,1539.9 L470.6,1539.7 L471.6,1539.6 M529.5,1532.4 L530.1,1532.3 L531.6,1532.1 L533.1,1531.9 L534.6,1531.7 L536.1,1531.5 L537.6,1531.3 L539.0,1531.1 L540.5,1530.8 L542.0,1530.6 L543.5,1530.4 L545.0,1530.2 L546.5,1530.0 L547.9,1529.7 L549.4,1529.5 L550.9,1529.3 L552.4,1529.0 L553.9,1528.8 L555.4,1528.6 L556.8,1528.3 L558.3,1528.1 L559.8,1527.8 L561.3,1527.6 L562.8,1527.3 L564.2,1527.1 L565.7,1526.8 L567.2,1526.6 L568.7,1526.3 L570.1,1526.0 L571.6,1525.8 L573.0,1525.5 M627.6,1512.1 L628.4,1511.9 L629.8,1511.4 L631.3,1510.9 L632.7,1510.5 L634.1,1510.0 L635.5,1509.5 L637.0,1509.1 L638.4,1508.6 L639.8,1508.1 L641.2,1507.6 L642.6,1507.1 L644.0,1506.5 L645.4,1506.0 L646.8,1505.5 L648.3,1505.0 L649.7,1504.4 L651.1,1503.9 L652.5,1503.3 L653.8,1502.8 L655.2,1502.2 L656.6,1501.7 L658.0,1501.1 L659.4,1500.5 L660.8,1499.9 L662.2,1499.3 L663.5,1498.7 L664.9,1498.1 L666.3,1497.5 L667.6,1496.9 L668.7,1496.4 M715.0,1469.3 L715.5,1469.0 L716.7,1468.1 L717.9,1467.2 L719.1,1466.2 L720.2,1465.3 L721.4,1464.4 L722.6,1463.4 L723.7,1462.5 L724.9,1461.5 L726.0,1460.5 L727.2,1459.6 L728.3,1458.6 L729.4,1457.6 L730.5,1456.6 L731.6,1455.6 L732.7,1454.5 L733.8,1453.5 L734.9,1452.5 L736.0,1451.4 L737.0,1450.4 L738.1,1449.3 L739.1,1448.2 L740.2,1447.1 L741.2,1446.0 L742.2,1444.9 L743.2,1443.8 L744.2,1442.7 L745.2,1441.6 L746.2,1440.4 L747.1,1439.4 M779.2,1386.1 L779.5,1385.4 L780.1,1384.1 L780.7,1382.7 L781.2,1381.3 L781.8,1379.9 L782.4,1378.5 L783.0,1377.1 L783.5,1375.8 L784.1,1374.4 L784.7,1373.0 L785.2,1371.6 L785.8,1370.2 L786.3,1368.8 L786.8,1367.4 L787.4,1366.0 L787.9,1364.6 L788.4,1363.2 L788.9,1361.7 L789.4,1360.3 L790.0,1358.9 L790.5,1357.5 L791.0,1356.1 L791.5,1354.7 L791.9,1353.3 L792.4,1351.9 L792.9,1350.4 L793.4,1349.0 L793.9,1347.6 L794.4,1346.2 L794.8,1345.0 M812.1,1285.5 L812.4,1284.2 L812.8,1282.8 L813.1,1281.3 L813.5,1279.9 L813.8,1278.4 L814.2,1277.0 L814.6,1275.5 L814.9,1274.0 L815.3,1272.6 L815.6,1271.1 L816.0,1269.7 L816.3,1268.2 L816.6,1266.7 L817.0,1265.3 L817.3,1263.8 L817.6,1262.4 L818.0,1260.9 L818.3,1259.4 L818.6,1258.0 L819.0,1256.5 L819.3,1255.0 L819.6,1253.6 L819.9,1252.1 L820.3,1250.6 L820.6,1249.2 L820.9,1247.7 L821.2,1246.2 L821.5,1244.8 L821.8,1243.3 L822.0,1242.6 M832.9,1184.0 L833.1,1182.8 L833.3,1181.4 L833.6,1179.9 L833.8,1178.4 L834.1,1176.9 L834.3,1175.4 L834.5,1174.0 L834.8,1172.5 L835.0,1171.0 L835.2,1169.5 L835.5,1168.0 L835.7,1166.5 L835.9,1165.1 L836.2,1163.6 L836.4,1162.1 L836.6,1160.6 L836.9,1159.1 L837.1,1157.6 L837.3,1156.2 L837.5,1154.7 L837.8,1153.2 L838.0,1151.7 L838.2,1150.2 L838.4,1148.7 L838.6,1147.3 L838.9,1145.8 L839.1,1144.3 L839.3,1142.8 L839.5,1141.3 L839.6,1140.6 M847.8,1080.8 L847.9,1080.4 L848.0,1078.9 L848.2,1077.4 L848.4,1075.9 L848.6,1074.4 L848.8,1072.9 L849.0,1071.5 L849.2,1070.0 L849.4,1068.5 L849.6,1067.0 L849.8,1065.5 L850.0,1064.0 L850.2,1062.5 L850.4,1061.0 L850.6,1059.5 L850.7,1058.1 L850.9,1056.6 L851.1,1055.1 L851.3,1053.6 L851.5,1052.1 L851.7,1050.6 L851.9,1049.1 L852.1,1047.6 L852.3,1046.2 L852.5,1044.7 L852.6,1043.2 L852.8,1041.7 L853.0,1040.2 L853.2,1038.7 L853.4,1037.2 L853.4,1037.2 M860.8,976.9 L860.9,976.2 L861.1,974.7 L861.3,973.2 L861.5,971.7 L861.7,970.2 L861.8,968.7 L862.0,967.2 L862.2,965.7 L862.4,964.3 L862.5,962.8 L862.7,961.3 L862.9,959.8 L863.1,958.3 L863.3,956.8 L863.4,955.3 L863.6,953.8 L863.8,952.3 L864.0,950.8 L864.1,949.4 L864.3,947.9 L864.5,946.4 L864.7,944.9 L864.8,943.4 L865.0,941.9 L865.2,940.4 L865.4,938.9 L865.5,937.4 L865.7,935.9 L865.9,934.5 L866.0,933.2 M872.8,873.8 L872.9,873.3 L873.1,871.9 L873.2,870.4 L873.4,868.9 L873.6,867.4 L873.7,865.9 L873.9,864.4 L874.1,862.9 L874.2,861.4 L874.4,859.9 L874.6,858.4 L874.7,856.9 L874.9,855.5 L875.1,854.0 L875.2,852.5 L875.4,851.0 L875.6,849.5 L875.7,848.0 L875.9,846.5 L876.0,845.0 L876.2,843.5 L876.4,842.0 L876.5,840.5 L876.7,839.0 L876.9,837.6 L877.0,836.1 L877.2,834.6 L877.4,833.1 L877.5,831.6 L877.7,830.1 L877.7,830.0 M884.1,769.9 L884.2,768.9 L884.4,767.4 L884.6,766.0 L884.7,764.5 L884.9,763.0 L885.0,761.5 L885.2,760.0 L885.3,758.5 L885.5,757.0 L885.7,755.5 L885.8,754.0 L886.0,752.5 L886.1,751.0 L886.3,749.5 L886.4,748.0 L886.6,746.6 L886.7,745.1 L886.9,743.6 L887.1,742.1 L887.2,740.6 L887.4,739.1 L887.5,737.6 L887.7,736.1 L887.8,734.6 L888.0,733.1 L888.1,731.6 L888.3,730.1 L888.4,728.6 L888.6,727.2 L888.7,726.1 M894.8,666.5 L894.8,666.0 L895.0,664.5 L895.1,663.0 L895.3,661.5 L895.4,660.0 L895.6,658.5 L895.7,657.0 L895.9,655.5 L896.0,654.0 L896.2,652.5 L896.3,651.0 L896.5,649.5 L896.6,648.0 L896.8,646.5 L896.9,645.1 L897.1,643.6 L897.2,642.1 L897.4,640.6 L897.5,639.1 L897.7,637.6 L897.8,636.1 L898.0,634.6 L898.1,633.1 L898.3,631.6 L898.4,630.1 L898.6,628.6 L898.7,627.1 L898.9,625.6 L899.0,624.2 L899.2,622.7 M905.2,563.0 L905.2,563.0 L905.4,561.5 L905.5,560.0 L905.7,558.5 L905.8,557.0 L906.0,555.5 L906.1,554.0 L906.3,552.5 L906.4,551.0 L906.6,549.5 L906.7,548.0 L906.9,546.5 L907.0,545.0 L907.2,543.6 L907.3,542.1 L907.5,540.6 L907.6,539.1 L907.8,537.6 L908.0,536.1 L908.1,534.6 L908.3,533.1 L908.4,531.6 L908.6,530.1 L908.7,528.6 L908.9,527.1 L909.0,525.6 L909.2,524.1 L909.3,522.7 L909.5,521.2 L909.7,519.7 L909.7,519.2 M916.0,459.8 L916.1,458.5 L916.3,457.0 L916.5,455.5 L916.6,454.0 L916.8,452.5 L917.0,451.0 L917.1,449.6 L917.3,448.1 L917.5,446.6 L917.6,445.1 L917.8,443.6 L917.9,442.1 L918.1,440.6 L918.3,439.1 L918.4,437.6 L918.6,436.1 L918.8,434.6 L918.9,433.2 L919.1,431.7 L919.3,430.2 L919.4,428.7 L919.6,427.2 L919.8,425.7 L919.9,424.2 L920.1,422.7 L920.3,421.2 L920.4,419.7 L920.6,418.2 L920.8,416.7 L920.9,416.1 M927.8,356.7 L927.9,355.7 L928.1,354.2 L928.3,352.7 L928.5,351.2 L928.7,349.7 L928.8,348.2 L929.0,346.7 L929.2,345.2 L929.4,343.7 L929.6,342.3 L929.8,340.8 L930.0,339.3 L930.1,337.8 L930.3,336.3 L930.5,334.8 L930.7,333.3 L930.9,331.8 L931.1,330.3 L931.3,328.9 L931.5,327.4 L931.7,325.9 L931.9,324.4 L932.1,322.9 L932.3,321.4 L932.5,319.9 L932.7,318.5 L933.0,317.0 L933.2,315.5 L933.4,314.0 L933.5,313.0 M945.0,253.8 L945.1,253.6 L945.4,252.2 L945.8,250.7 L946.2,249.3 L946.6,247.8 L947.0,246.4 L947.4,244.9 L947.8,243.5 L948.2,242.1 L948.6,240.6 L949.1,239.2 L949.5,237.7 L949.9,236.3 L950.4,234.9 L950.8,233.4 L951.3,232.0 L951.8,230.6 L952.2,229.2 L952.7,227.7 L953.2,226.3 L953.7,224.9 L954.2,223.5 L954.7,222.1 L955.2,220.7 L955.7,219.2 L956.2,217.8 L956.8,216.4 L957.3,215.0 L957.8,213.6 L958.4,212.2 L958.5,212.0 M983.0,165.6 L983.7,164.7 L984.6,163.5 L985.5,162.3 L986.4,161.1 L987.3,159.9 L988.3,158.7 L989.2,157.6 L990.2,156.4 L991.1,155.3 L992.1,154.2 L993.1,153.0 L994.2,151.9 L995.2,150.8 L996.2,149.8 L997.3,148.7 L998.4,147.7 L999.5,146.6 L1000.6,145.6 L1001.7,144.6 L1002.8,143.6 L1004.0,142.7 L1005.1,141.7 L1006.3,140.8 L1007.5,139.8 L1008.7,138.9 L1009.9,138.0 L1011.1,137.2 L1012.3,136.3 L1013.6,135.5 L1014.3,135.0 M1065.2,121.1 L1065.6,121.6 L1066.5,122.8 L1067.4,124.0 L1068.2,125.3 L1069.0,126.5 L1069.8,127.8 L1070.5,129.2 L1071.2,130.5 L1071.8,131.8 L1072.5,133.2 L1073.1,134.5 L1073.7,135.9 L1074.3,137.3 L1074.9,138.7 L1075.5,140.0 L1076.1,141.4 L1076.7,142.8 L1077.3,144.2 L1077.9,145.6 L1078.4,146.9 L1079.0,148.3 L1079.6,149.7 L1080.1,151.1 L1080.7,152.5 L1081.2,153.9 L1081.8,155.3 L1082.3,156.7 L1082.9,158.1 L1083.4,159.5 L1083.9,160.8 M1102.5,220.7 L1102.6,221.1 L1102.9,222.5 L1103.3,224.0 L1103.7,225.4 L1104.0,226.9 L1104.4,228.4 L1104.8,229.8 L1105.1,231.3 L1105.5,232.7 L1105.8,234.2 L1106.2,235.6 L1106.5,237.1 L1106.9,238.6 L1107.2,240.0 L1107.6,241.5 L1107.9,242.9 L1108.2,244.4 L1108.6,245.9 L1108.9,247.3 L1109.2,248.8 L1109.5,250.3 L1109.9,251.7 L1110.2,253.2 L1110.5,254.7 L1110.8,256.1 L1111.1,257.6 L1111.5,259.1 L1111.8,260.5 L1112.1,262.0 L1112.4,263.5 L1112.4,263.6 M1123.2,322.3 L1123.2,322.5 L1123.5,324.0 L1123.7,325.4 L1124.0,326.9 L1124.2,328.4 L1124.5,329.9 L1124.7,331.4 L1124.9,332.8 L1125.2,334.3 L1125.4,335.8 L1125.6,337.3 L1125.9,338.8 L1126.1,340.3 L1126.4,341.7 L1126.6,343.2 L1126.8,344.7 L1127.1,346.2 L1127.3,347.7 L1127.5,349.1 L1127.7,350.6 L1128.0,352.1 L1128.2,353.6 L1128.4,355.1 L1128.7,356.6 L1128.9,358.0 L1129.1,359.5 L1129.3,361.0 L1129.6,362.5 L1129.8,364.0 L1130.0,365.5 L1130.1,365.8 M1139.0,424.9 L1139.2,426.3 L1139.4,427.8 L1139.6,429.3 L1139.8,430.7 L1140.1,432.2 L1140.3,433.7 L1140.5,435.2 L1140.7,436.7 L1140.9,438.2 L1141.2,439.6 L1141.4,441.1 L1141.6,442.6 L1141.8,444.1 L1142.0,445.6 L1142.3,447.1 L1142.5,448.6 L1142.7,450.0 L1142.9,451.5 L1143.1,453.0 L1143.3,454.5 L1143.6,456.0 L1143.8,457.5 L1144.0,458.9 L1144.2,460.4 L1144.4,461.9 L1144.6,463.4 L1144.9,464.9 L1145.1,466.4 L1145.3,467.9 L1145.4,468.4 M1154.0,528.3 L1154.0,528.7 L1154.2,530.2 L1154.4,531.7 L1154.6,533.2 L1154.9,534.7 L1155.1,536.2 L1155.3,537.7 L1155.5,539.1 L1155.7,540.6 L1155.9,542.1 L1156.1,543.6 L1156.3,545.1 L1156.5,546.6 L1156.7,548.1 L1156.9,549.5 L1157.1,551.0 L1157.3,552.5 L1157.6,554.0 L1157.8,555.5 L1158.0,557.0 L1158.2,558.5 L1158.4,559.9 L1158.6,561.4 L1158.8,562.9 L1159.0,564.4 L1159.2,565.9 L1159.4,567.4 L1159.6,568.9 L1159.8,570.3 L1160.0,571.8 L1160.0,571.9 M1168.0,630.7 L1168.1,631.3 L1168.3,632.8 L1168.5,634.3 L1168.7,635.8 L1168.9,637.3 L1169.1,638.7 L1169.3,640.2 L1169.5,641.7 L1169.7,643.2 L1169.9,644.7 L1170.1,646.2 L1170.3,647.7 L1170.5,649.1 L1170.7,650.6 L1170.9,652.1 L1171.1,653.6 L1171.3,655.1 L1171.5,656.6 L1171.7,658.1 L1171.9,659.6 L1172.0,661.0 L1172.2,662.5 L1172.4,664.0 L1172.6,665.5 L1172.8,667.0 L1173.0,668.5 L1173.2,670.0 L1173.4,671.5 L1173.6,672.9 L1173.8,674.3 M1181.5,734.3 L1181.7,735.4 L1181.9,736.9 L1182.1,738.4 L1182.3,739.9 L1182.5,741.4 L1182.6,742.9 L1182.8,744.4 L1183.0,745.9 L1183.2,747.3 L1183.4,748.8 L1183.6,750.3 L1183.8,751.8 L1184.0,753.3 L1184.2,754.8 L1184.3,756.3 L1184.5,757.8 L1184.7,759.3 L1184.9,760.7 L1185.1,762.2 L1185.3,763.7 L1185.5,765.2 L1185.7,766.7 L1185.9,768.2 L1186.0,769.7 L1186.2,771.2 L1186.4,772.7 L1186.6,774.1 L1186.8,775.6 L1187.0,777.1 L1187.1,777.9 M1194.7,837.2 L1194.8,838.1 L1195.0,839.6 L1195.2,841.1 L1195.4,842.6 L1195.6,844.1 L1195.8,845.6 L1196.0,847.1 L1196.2,848.5 L1196.4,850.0 L1196.5,851.5 L1196.7,853.0 L1196.9,854.5 L1197.1,856.0 L1197.3,857.5 L1197.5,859.0 L1197.7,860.4 L1197.9,861.9 L1198.1,863.4 L1198.3,864.9 L1198.5,866.4 L1198.7,867.9 L1198.9,869.4 L1199.1,870.9 L1199.3,872.3 L1199.5,873.8 L1199.7,875.3 L1199.9,876.8 L1200.1,878.3 L1200.3,879.8 L1200.5,880.9 M1208.9,940.2 L1209.0,940.7 L1209.2,942.2 L1209.4,943.6 L1209.6,945.1 L1209.8,946.6 L1210.1,948.1 L1210.3,949.6 L1210.5,951.1 L1210.7,952.6 L1211.0,954.0 L1211.2,955.5 L1211.4,957.0 L1211.6,958.5 L1211.9,960.0 L1212.1,961.5 L1212.3,962.9 L1212.5,964.4 L1212.8,965.9 L1213.0,967.4 L1213.2,968.9 L1213.4,970.3 L1213.7,971.8 L1213.9,973.3 L1214.1,974.8 L1214.4,976.3 L1214.6,977.8 L1214.8,979.2 L1215.1,980.7 L1215.3,982.2 L1215.5,983.6 M1225.5,1043.7 L1225.6,1044.4 L1225.8,1045.9 L1226.1,1047.3 L1226.3,1048.8 L1226.6,1050.3 L1226.9,1051.8 L1227.1,1053.2 L1227.4,1054.7 L1227.6,1056.2 L1227.9,1057.7 L1228.2,1059.2 L1228.4,1060.6 L1228.7,1062.1 L1229.0,1063.6 L1229.2,1065.1 L1229.5,1066.5 L1229.7,1068.0 L1230.0,1069.5 L1230.3,1071.0 L1230.6,1072.4 L1230.8,1073.9 L1231.1,1075.4 L1231.4,1076.9 L1231.6,1078.3 L1231.9,1079.8 L1232.2,1081.3 L1232.4,1082.8 L1232.7,1084.3 L1233.0,1085.7 L1233.2,1087.0 M1244.8,1146.1 L1244.8,1146.1 L1245.1,1147.6 L1245.4,1149.0 L1245.7,1150.5 L1246.0,1152.0 L1246.3,1153.4 L1246.6,1154.9 L1246.9,1156.4 L1247.3,1157.8 L1247.6,1159.3 L1247.9,1160.8 L1248.2,1162.2 L1248.5,1163.7 L1248.8,1165.2 L1249.1,1166.7 L1249.4,1168.1 L1249.7,1169.6 L1250.1,1171.1 L1250.4,1172.5 L1250.7,1174.0 L1251.0,1175.5 L1251.3,1176.9 L1251.7,1178.4 L1252.0,1179.8 L1252.3,1181.3 L1252.6,1182.8 L1252.9,1184.2 L1253.3,1185.7 L1253.6,1187.2 L1253.9,1188.6 L1254.0,1189.1 M1267.7,1247.7 L1267.9,1248.5 L1268.3,1250.0 L1268.7,1251.4 L1269.0,1252.9 L1269.4,1254.4 L1269.8,1255.8 L1270.1,1257.3 L1270.5,1258.7 L1270.9,1260.2 L1271.2,1261.6 L1271.6,1263.1 L1272.0,1264.5 L1272.3,1266.0 L1272.7,1267.4 L1273.1,1268.9 L1273.5,1270.3 L1273.8,1271.8 L1274.2,1273.3 L1274.6,1274.7 L1275.0,1276.2 L1275.4,1277.6 L1275.7,1279.1 L1276.1,1280.5 L1276.5,1282.0 L1276.9,1283.4 L1277.3,1284.9 L1277.7,1286.3 L1278.1,1287.8 L1278.5,1289.2 L1278.8,1290.3 M1295.2,1345.4 L1295.6,1346.7 L1296.1,1348.1 L1296.6,1349.5 L1297.0,1351.0 L1297.5,1352.4 L1298.0,1353.8 L1298.5,1355.2 L1299.0,1356.7 L1299.5,1358.1 L1299.9,1359.5 L1300.4,1360.9 L1300.9,1362.3 L1301.4,1363.7 L1301.9,1365.2 L1302.4,1366.6 L1302.9,1368.0 L1303.4,1369.4 L1304.0,1370.8 L1304.5,1372.2 L1305.0,1373.6 L1305.5,1375.0 L1306.0,1376.4 L1306.5,1377.8 L1307.1,1379.3 L1307.6,1380.7 L1308.1,1382.1 L1308.7,1383.5 L1309.2,1384.9 L1309.7,1386.3 L1310.0,1386.9 M1331.9,1437.7 L1332.4,1438.6 L1333.0,1439.9 L1333.7,1441.3 L1334.3,1442.6 L1335.0,1444.0 L1335.7,1445.3 L1336.4,1446.6 L1337.0,1448.0 L1337.7,1449.3 L1338.4,1450.7 L1339.1,1452.0 L1339.8,1453.3 L1340.5,1454.6 L1341.2,1456.0 L1341.9,1457.3 L1342.6,1458.6 L1343.3,1459.9 L1344.1,1461.2 L1344.8,1462.5 L1345.5,1463.9 L1346.3,1465.2 L1347.0,1466.5 L1347.8,1467.8 L1348.5,1469.0 L1349.3,1470.3 L1350.1,1471.6 L1350.9,1472.9 L1351.6,1474.2 L1352.4,1475.5 L1353.0,1476.3 M1393.6,1522.2 L1393.9,1522.4 L1395.1,1523.3 L1396.3,1524.2 L1397.6,1525.0 L1398.8,1525.9 L1400.0,1526.7 L1401.3,1527.5 L1402.6,1528.4 L1403.8,1529.1 L1405.1,1529.9 L1406.4,1530.7 L1407.7,1531.4 L1409.0,1532.2 L1410.3,1532.9 L1411.6,1533.6 L1413.0,1534.3 L1414.3,1535.0 L1415.7,1535.7 L1417.0,1536.3 L1418.4,1537.0 L1419.7,1537.6 L1421.1,1538.2 L1422.4,1538.8 L1423.8,1539.4 L1425.2,1540.0 L1426.6,1540.6 L1428.0,1541.2 L1429.4,1541.7 L1430.8,1542.2 L1432.2,1542.8 L1432.4,1542.8 M1480.2,1552.4 L1481.2,1551.9 L1482.5,1551.2 L1483.7,1550.3 L1484.9,1549.3 L1486.0,1548.3 L1487.0,1547.3 L1488.1,1546.2 L1489.1,1545.1 L1490.1,1543.9 L1491.0,1542.8 L1492.0,1541.6 L1492.9,1540.5 L1493.9,1539.3 L1494.8,1538.2 L1495.8,1537.0 L1496.9,1535.9 L1498.0,1534.9 L1499.1,1534.0 L1500.5,1533.3 L1501.9,1533.0 L1503.3,1533.5 L1504.5,1534.4 L1505.5,1535.6 L1506.3,1536.8 L1507.1,1538.1 L1507.9,1539.3 L1508.7,1540.6 L1509.4,1541.9 L1510.2,1543.2 L1510.7,1544.0 M1560.5,1546.9 L1560.7,1546.9 L1562.2,1546.9 L1563.7,1546.9 L1565.2,1547.1 L1566.6,1547.3 L1568.1,1547.5 L1569.6,1547.7 L1571.1,1547.9 L1572.6,1548.1 L1574.1,1548.1 L1575.6,1548.1 L1577.1,1548.1 L1578.6,1547.9 L1580.1,1547.7 L1581.5,1547.4 L1583.0,1547.1 L1584.5,1546.8 L1585.9,1546.4 L1587.4,1546.0 L1588.8,1545.5 L1590.2,1545.1 L1591.6,1544.6 L1593.1,1544.1 L1594.5,1543.6 L1595.9,1543.1 L1597.3,1542.6 L1598.7,1542.1 L1600.1,1541.6 L1601.5,1541.1 L1602.9,1540.6 L1603.2,1540.5 M1647.1,1527.7 L1647.6,1527.6 L1649.0,1527.2 L1650.5,1526.8 L1651.9,1526.4 L1653.4,1526.0 L1654.8,1525.6 L1656.3,1525.2 L1657.7,1524.8 L1659.2,1524.3 L1660.6,1523.9 L1662.0,1523.5 L1663.5,1523.1 L1664.9,1522.6 L1666.3,1522.2 L1667.8,1521.7 L1669.2,1521.3 L1670.6,1520.8 L1672.0,1520.3 L1673.5,1519.9 L1674.9,1519.4 L1676.3,1519.0 L1677.8,1518.5 L1679.2,1518.1 L1680.6,1517.7 L1682.1,1517.2 L1683.5,1516.8 L1685.0,1516.4 L1686.4,1516.1 L1687.9,1515.7 L1689.3,1515.3 M1734.2,1520.6 L1734.4,1520.7 L1735.8,1521.4 L1737.1,1522.1 L1738.4,1522.8 L1739.8,1523.4 L1741.1,1524.1 L1742.5,1524.6 L1744.0,1525.0 L1745.4,1525.3 L1746.9,1525.5 L1748.4,1525.5 L1749.9,1525.3 L1751.4,1525.1 L1752.8,1524.7 L1754.3,1524.3 L1755.7,1523.8 L1757.1,1523.2 L1758.5,1522.6 L1759.8,1522.0 L1761.2,1521.3 L1762.5,1520.7 L1763.9,1520.0 L1765.2,1519.3 L1766.6,1518.7 L1767.9,1518.0 L1769.3,1517.4 L1770.6,1516.7 L1772.0,1516.2 L1773.4,1515.6 L1774.8,1515.1 L1775.1,1515.0 M1833.7,1514.5 L1834.6,1514.5 L1836.1,1514.5 L1837.6,1514.6 L1839.1,1514.6 L1840.6,1514.6 L1842.1,1514.6 L1843.6,1514.6 L1845.1,1514.6 L1846.6,1514.6 L1848.1,1514.6 L1849.6,1514.6 L1851.1,1514.7 L1852.6,1514.7 L1854.1,1514.7 L1855.6,1514.7 L1857.1,1514.7 L1858.6,1514.7 L1860.1,1514.7 L1861.6,1514.7 L1863.1,1514.8 L1864.6,1514.8 L1866.1,1514.8 L1867.6,1514.8 L1869.1,1514.8 L1870.6,1514.8 L1872.1,1514.8 L1873.6,1514.9 L1875.1,1514.9 L1876.6,1514.9 L1877.7,1514.9 M1937.4,1516.4 L1938.1,1516.4 L1939.6,1516.5 L1941.1,1516.6 L1942.6,1516.6 L1944.1,1516.7 L1945.6,1516.8 L1947.1,1516.9 L1948.6,1516.9 L1950.1,1517.0 L1951.6,1517.1 L1953.1,1517.2 L1954.6,1517.2 L1956.1,1517.3 L1957.5,1517.4 L1959.0,1517.5 L1960.5,1517.6 L1962.0,1517.7 L1963.5,1517.8 L1965.0,1517.9 L1966.5,1518.0 L1968.0,1518.1 L1969.5,1518.2 L1971.0,1518.3 L1972.5,1518.4 L1974.0,1518.5 L1975.5,1518.6 L1977.0,1518.7 L1978.5,1518.8 L1980.0,1518.9 L1981.3,1519.0 M2038.6,1523.3 L2039.8,1523.3 L2041.3,1523.4 L2042.8,1523.4 L2044.3,1523.4 L2045.8,1523.4 L2047.3,1523.4 L2048.8,1523.4 L2050.3,1523.4 L2051.8,1523.4 L2053.3,1523.4 L2054.8,1523.4 L2056.3,1523.3 L2057.8,1523.3 L2059.3,1523.2 L2060.8,1523.2 L2062.3,1523.1 L2063.8,1523.0 L2065.3,1522.9 L2066.8,1522.8 L2068.3,1522.7 L2069.8,1522.6 L2071.3,1522.4 L2072.8,1522.3 L2074.3,1522.1 L2075.8,1522.0 L2077.3,1521.8 L2078.8,1521.6 L2080.3,1521.4 L2081.7,1521.2 L2082.4,1521.1 M2132.2,1518.8 L2132.3,1518.8 L2133.7,1519.3 L2135.1,1519.7 L2136.5,1520.2 L2137.9,1520.7 L2139.4,1521.2 L2140.8,1521.8 L2142.2,1522.3 L2143.6,1522.8 L2145.0,1523.3 L2146.4,1523.7 L2147.9,1524.1 L2149.3,1524.5 L2150.8,1524.9 L2152.2,1525.2 L2153.7,1525.5 L2155.2,1525.8 L2156.7,1526.0 L2158.2,1526.2 L2159.7,1526.3 L2161.1,1526.5 L2162.6,1526.6 L2164.1,1526.7 L2165.6,1526.8 L2167.1,1526.8 L2168.6,1526.8 L2170.1,1526.8 L2171.6,1526.8 L2173.1,1526.8 L2174.6,1526.8 L2175.1,1526.7"/>
</g>
<g fill="none" stroke-width="12" stroke-linecap="round">
<line x1="1526" y1="150.0" x2="1701" y2="150.0" stroke="#3C4A7C"/>
<line x1="1526" y1="246.8" x2="1701" y2="246.8" stroke="#EB544C" stroke-dasharray="16 30.4"/>
<line x1="1526" y1="343.6" x2="1701" y2="343.6" stroke="#CE9446" stroke-dasharray="0.01 20.5"/>
<line x1="1526" y1="440.4" x2="1701" y2="440.4" stroke="#20B1A0" stroke-dasharray="44 59"/>
</g>
<g font-size="79">
<text x="1724" y="178.0">0 min</text>
<text x="1724" y="274.9">5 min</text>
<text x="1724" y="371.8">10 min</text>
<text x="1724" y="468.7">15 min</text>
</g>
</svg></body></html>
